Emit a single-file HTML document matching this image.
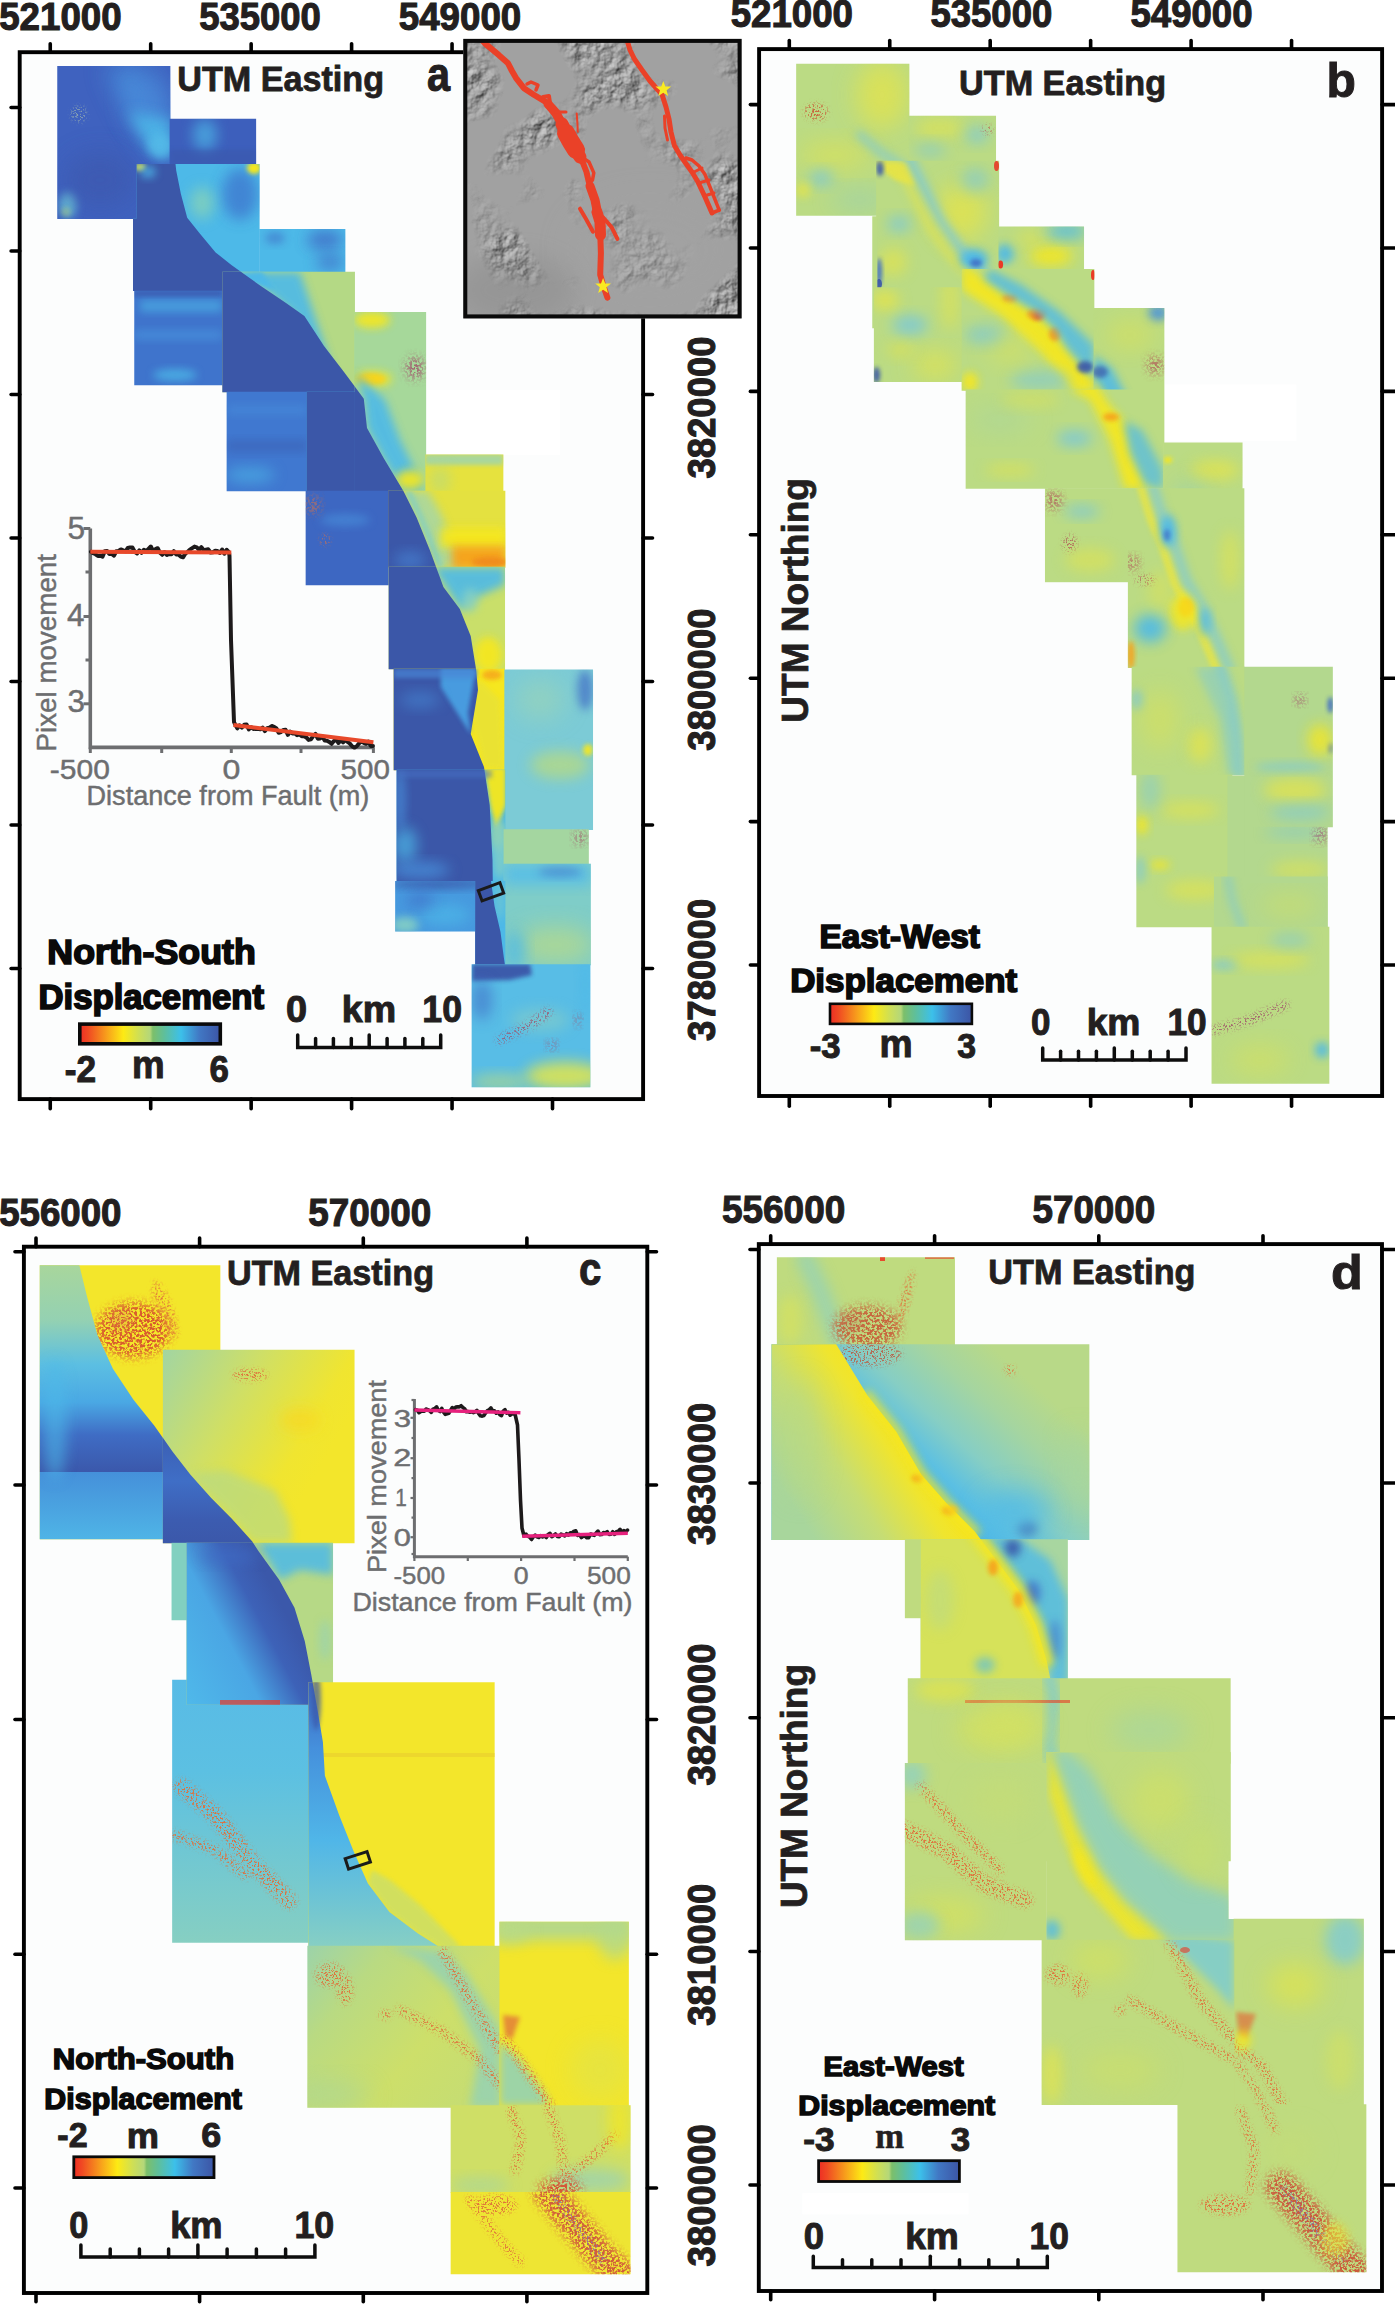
<!DOCTYPE html>
<html><head><meta charset="utf-8"><title>Displacement maps</title>
<style>html,body{margin:0;padding:0;background:#fff}svg{display:block}</style></head>
<body><svg width="1395" height="2307" viewBox="0 0 1395 2307">
<defs>
<filter id="b2" x="-50%" y="-50%" width="200%" height="200%"><feGaussianBlur stdDeviation="2"/></filter>
<filter id="b4" x="-50%" y="-50%" width="200%" height="200%"><feGaussianBlur stdDeviation="4"/></filter>
<filter id="b7" x="-50%" y="-50%" width="200%" height="200%"><feGaussianBlur stdDeviation="7"/></filter>
<filter id="b12" x="-60%" y="-60%" width="220%" height="220%"><feGaussianBlur stdDeviation="12"/></filter>
<filter id="b20" x="-80%" y="-80%" width="260%" height="260%"><feGaussianBlur stdDeviation="20"/></filter>
<filter id="spk" x="-40%" y="-40%" width="180%" height="180%">
<feGaussianBlur in="SourceGraphic" stdDeviation="2.5" result="soft"/>
<feTurbulence type="fractalNoise" baseFrequency="0.55" numOctaves="2" seed="3" result="n"/>
<feColorMatrix in="n" type="matrix" values="0 0 0 0 0  0 0 0 0 0  0 0 0 0 0  9 0 0 0 -4.75" result="a"/>
<feComposite in="soft" in2="a" operator="in"/>
</filter>
<filter id="spk2" x="-40%" y="-40%" width="180%" height="180%">
<feGaussianBlur in="SourceGraphic" stdDeviation="5" result="soft"/>
<feTurbulence type="fractalNoise" baseFrequency="0.4" numOctaves="2" seed="11" result="n"/>
<feColorMatrix in="n" type="matrix" values="0 0 0 0 0  0 0 0 0 0  0 0 0 0 0  0 7 0 0 -3.0" result="a"/>
<feComposite in="soft" in2="a" operator="in"/>
</filter>
<clipPath id="t1"><rect x="57.25" y="65.95" width="113.10" height="153.00"/></clipPath>
<clipPath id="t2"><rect x="169.65" y="118.65" width="86.50" height="45.70"/></clipPath>
<clipPath id="t3"><polygon points="136.7,164.0 259.6,164.0 259.6,291.0 133.0,291.0 133.0,218.6 136.7,218.6"/></clipPath>
<clipPath id="t4"><rect x="259.25" y="229.05" width="86.10" height="43.30"/></clipPath>
<clipPath id="t5"><rect x="134.25" y="290.65" width="88.80" height="94.70"/></clipPath>
<clipPath id="t6"><rect x="222.35" y="271.65" width="132.60" height="120.70"/></clipPath>
<clipPath id="t7"><rect x="354.25" y="311.95" width="71.90" height="179.40"/></clipPath>
<clipPath id="t8"><rect x="226.65" y="391.65" width="80.70" height="99.70"/></clipPath>
<clipPath id="t9"><rect x="306.65" y="391.65" width="48.30" height="99.70"/></clipPath>
<clipPath id="t10"><rect x="425.45" y="454.45" width="77.90" height="113.40"/></clipPath>
<clipPath id="t11"><rect x="305.65" y="490.65" width="83.20" height="94.70"/></clipPath>
<clipPath id="t12"><rect x="388.15" y="490.65" width="117.20" height="77.20"/></clipPath>
<clipPath id="t13"><rect x="388.65" y="566.65" width="116.40" height="102.70"/></clipPath>
<clipPath id="t14"><rect x="393.65" y="668.65" width="111.40" height="101.70"/></clipPath>
<clipPath id="t15"><rect x="504.35" y="669.45" width="88.70" height="160.60"/></clipPath>
<clipPath id="t16"><rect x="396.65" y="769.65" width="108.70" height="112.00"/></clipPath>
<clipPath id="t17"><rect x="503.55" y="829.35" width="85.30" height="35.00"/></clipPath>
<clipPath id="t18"><rect x="503.55" y="863.65" width="87.30" height="101.70"/></clipPath>
<clipPath id="t19"><rect x="395.15" y="880.95" width="80.70" height="50.60"/></clipPath>
<clipPath id="t20"><rect x="475.15" y="880.95" width="30.20" height="99.40"/></clipPath>
<clipPath id="t21"><rect x="471.65" y="964.35" width="118.70" height="123.00"/></clipPath>
<clipPath id="t22"><rect x="796.15" y="63.65" width="113.20" height="152.20"/></clipPath>
<clipPath id="t23"><rect x="908.65" y="115.65" width="87.40" height="46.20"/></clipPath>
<clipPath id="t24"><rect x="876.15" y="160.65" width="123.00" height="127.70"/></clipPath>
<clipPath id="t25"><rect x="872.25" y="216.15" width="5.10" height="112.20"/></clipPath>
<clipPath id="t26"><rect x="998.45" y="226.55" width="85.60" height="43.30"/></clipPath>
<clipPath id="t27"><rect x="873.85" y="287.25" width="88.50" height="94.80"/></clipPath>
<clipPath id="t28"><rect x="961.65" y="268.95" width="132.70" height="121.80"/></clipPath>
<clipPath id="t29"><rect x="1093.65" y="307.95" width="70.70" height="135.40"/></clipPath>
<clipPath id="t30"><rect x="965.65" y="389.45" width="198.20" height="99.40"/></clipPath>
<clipPath id="t31"><rect x="1163.15" y="442.55" width="79.40" height="117.80"/></clipPath>
<clipPath id="t32"><rect x="1044.95" y="488.15" width="83.60" height="94.00"/></clipPath>
<clipPath id="t33"><rect x="1127.85" y="488.15" width="116.50" height="179.80"/></clipPath>
<clipPath id="t34"><rect x="1131.65" y="666.65" width="113.40" height="108.70"/></clipPath>
<clipPath id="t35"><rect x="1136.35" y="774.65" width="96.00" height="152.70"/></clipPath>
<clipPath id="t36"><rect x="1227.45" y="775.55" width="17.60" height="151.80"/></clipPath>
<clipPath id="t37"><rect x="1244.35" y="666.65" width="88.50" height="160.70"/></clipPath>
<clipPath id="t38"><rect x="1244.35" y="826.65" width="83.30" height="100.70"/></clipPath>
<clipPath id="t39"><rect x="1213.95" y="876.45" width="113.70" height="51.40"/></clipPath>
<clipPath id="t40"><rect x="1211.55" y="926.65" width="117.80" height="157.20"/></clipPath>
<linearGradient id="gc1" gradientUnits="userSpaceOnUse" x1="0" y1="1265.5" x2="0" y2="1539"><stop offset="0" stop-color="#a8d69c"/><stop offset="0.2" stop-color="#94d1b2"/><stop offset="0.36" stop-color="#5cbfe2"/><stop offset="0.5" stop-color="#4aa8e4"/><stop offset="0.62" stop-color="#3f6cc4"/><stop offset="0.755" stop-color="#3b58ab"/><stop offset="0.756" stop-color="#4590da"/><stop offset="1" stop-color="#4fb4e6"/></linearGradient>
<clipPath id="t41"><rect x="39.75" y="1265.15" width="180.60" height="274.20"/></clipPath>
<linearGradient id="gc2" gradientUnits="userSpaceOnUse" x1="163" y1="1350" x2="330" y2="1450"><stop offset="0" stop-color="#a2d5a2"/><stop offset="0.45" stop-color="#cfdf66"/><stop offset="0.85" stop-color="#f0e530"/><stop offset="1" stop-color="#f3e62b"/></linearGradient>
<linearGradient id="gc2w" gradientUnits="userSpaceOnUse" x1="0" y1="1430" x2="0" y2="1543"><stop offset="0" stop-color="#3b5cb0"/><stop offset="0.45" stop-color="#3f6ec6"/><stop offset="0.8" stop-color="#3c5cb0"/><stop offset="1" stop-color="#3b58aa"/></linearGradient>
<clipPath id="t42"><rect x="162.85" y="1349.65" width="191.70" height="193.70"/></clipPath>
<linearGradient id="gc4" gradientUnits="userSpaceOnUse" x1="0" y1="1680" x2="0" y2="1942"><stop offset="0" stop-color="#58bbe6"/><stop offset="0.35" stop-color="#5cc0e2"/><stop offset="1" stop-color="#86cfc2"/></linearGradient>
<clipPath id="t43"><rect x="172.15" y="1679.65" width="136.90" height="263.20"/></clipPath>
<clipPath id="t44"><rect x="171.55" y="1542.85" width="15.70" height="77.50"/></clipPath>
<linearGradient id="gc3" gradientUnits="userSpaceOnUse" x1="186.9" y1="1700" x2="300" y2="1640"><stop offset="0" stop-color="#4fb8ea"/><stop offset="0.5" stop-color="#4aa6e4"/><stop offset="0.8" stop-color="#3d62b8"/><stop offset="1" stop-color="#3b58aa"/></linearGradient>
<clipPath id="t45"><rect x="186.55" y="1542.85" width="146.50" height="162.00"/></clipPath>
<linearGradient id="gc4w" gradientUnits="userSpaceOnUse" x1="0" y1="1682" x2="0" y2="1946"><stop offset="0" stop-color="#3e66c0"/><stop offset="0.25" stop-color="#4590dc"/><stop offset="0.6" stop-color="#50b6e8"/><stop offset="1" stop-color="#86cfc4"/></linearGradient>
<clipPath id="t46"><rect x="308.35" y="1682.25" width="186.30" height="264.10"/></clipPath>
<linearGradient id="gc5" gradientUnits="userSpaceOnUse" x1="307" y1="1946" x2="500" y2="2107"><stop offset="0" stop-color="#9cd3aa"/><stop offset="0.25" stop-color="#b9da82"/><stop offset="0.6" stop-color="#cddf6a"/><stop offset="1" stop-color="#c3dc76"/></linearGradient>
<clipPath id="t47"><rect x="307.35" y="1945.65" width="192.80" height="162.10"/></clipPath>
<clipPath id="t48"><rect x="499.45" y="1921.65" width="129.40" height="184.30"/></clipPath>
<clipPath id="t49"><rect x="450.65" y="2105.25" width="179.90" height="87.40"/></clipPath>
<clipPath id="t50"><rect x="450.65" y="2191.95" width="179.90" height="82.40"/></clipPath>
<clipPath id="t51"><rect x="776.85" y="1257.15" width="178.10" height="87.80"/></clipPath>
<linearGradient id="gd2w" gradientUnits="userSpaceOnUse" x1="790" y1="1500" x2="900" y2="1430"><stop offset="0" stop-color="#a8d69c"/><stop offset="0.45" stop-color="#c6dd74"/><stop offset="0.85" stop-color="#efe52f"/><stop offset="1" stop-color="#f5e422"/></linearGradient>
<linearGradient id="gd2e" gradientUnits="userSpaceOnUse" x1="940" y1="1500" x2="1040" y2="1390"><stop offset="0" stop-color="#4db8e8"/><stop offset="0.14" stop-color="#5cc0e2"/><stop offset="0.38" stop-color="#86cec4"/><stop offset="0.7" stop-color="#a5d5a0"/><stop offset="1" stop-color="#b8d988"/></linearGradient>
<clipPath id="t52"><rect x="771.45" y="1344.25" width="317.90" height="195.70"/></clipPath>
<clipPath id="t53"><rect x="904.85" y="1539.25" width="16.50" height="78.90"/></clipPath>
<clipPath id="t54"><rect x="920.65" y="1539.25" width="147.20" height="139.80"/></clipPath>
<clipPath id="t55"><rect x="907.75" y="1678.35" width="322.90" height="85.30"/></clipPath>
<clipPath id="t56"><rect x="1046.05" y="1752.05" width="184.60" height="109.30"/></clipPath>
<clipPath id="t57"><rect x="904.85" y="1762.95" width="141.90" height="177.40"/></clipPath>
<clipPath id="t58"><polygon points="1046.4,1752.4 1230.3,1752.4 1230.3,1861.0 1228.5,1861.0 1228.5,1919.0 1234.0,1919.0 1234.0,1940.0 1046.4,1940.0"/></clipPath>
<clipPath id="t59"><rect x="1233.65" y="1918.65" width="130.20" height="186.30"/></clipPath>
<clipPath id="t60"><rect x="1041.65" y="1939.65" width="192.70" height="165.30"/></clipPath>
<clipPath id="t61"><rect x="1177.45" y="2104.25" width="188.90" height="168.10"/></clipPath>
<filter id="dem" x="0" y="0" width="100%" height="100%" color-interpolation-filters="sRGB">
<feTurbulence type="fractalNoise" baseFrequency="0.09" numOctaves="4" seed="7" result="n"/>
<feDiffuseLighting in="n" surfaceScale="2.6" diffuseConstant="1" lighting-color="#fff" result="l"><feDistantLight azimuth="225" elevation="50"/></feDiffuseLighting>
<feColorMatrix in="l" type="matrix" values="0.9 0 0 0 -0.08  0.9 0 0 0 -0.08  0.9 0 0 0 -0.08  0 0 0 1 0" result="lg"/>
<feTurbulence type="fractalNoise" baseFrequency="0.014" numOctaves="2" seed="23" result="m"/>
<feColorMatrix in="m" type="matrix" values="0 0 0 0 0  0 0 0 0 0  0 0 0 0 0  6 0 0 0 -2.9" result="ma"/>
<feComposite in="lg" in2="ma" operator="in"/>
</filter>
<clipPath id="insc"><rect x="465" y="41" width="275" height="276"/></clipPath>
<linearGradient id="cbar" x1="0" y1="0" x2="1" y2="0"><stop offset="0" stop-color="#ee2d24"/><stop offset="0.06" stop-color="#f04a23"/><stop offset="0.2" stop-color="#f8a51b"/><stop offset="0.31" stop-color="#fdea14"/><stop offset="0.42" stop-color="#cfdf55"/><stop offset="0.5" stop-color="#b4d77a"/><stop offset="0.52" stop-color="#7cbf6a"/><stop offset="0.6" stop-color="#5fbf9a"/><stop offset="0.72" stop-color="#3cc0ea"/><stop offset="0.85" stop-color="#4178c4"/><stop offset="1" stop-color="#3c55a5"/></linearGradient>
</defs>
<rect x="0.0" y="0.0" width="1395.0" height="2307.0" fill="#ffffff" />
<rect x="19.7" y="52.2" width="623.4" height="1046.9" fill="#fcfdfd" />
<rect x="759.1" y="49.1" width="623.0" height="1046.9" fill="#fcfdfd" />
<rect x="23.9" y="1246.7" width="623.4" height="1046.3" fill="#fcfdfd" />
<rect x="758.8" y="1244.1" width="623.2" height="1046.9" fill="#fcfdfd" />
<rect x="1165.0" y="384.5" width="131.4" height="56.5" fill="#ffffff" />
<rect x="427.0" y="390.0" width="133.0" height="65.0" fill="#ffffff" />
<g clip-path="url(#t1)">
<rect x="56.6" y="65.3" width="114.4" height="154.3" fill="#3f62bf" />
<polygon points="105.0,66.0 140.0,66.0 171.0,120.0 171.0,160.0 150.0,150.0 125.0,110.0" fill="#4a90dc" filter="url(#b12)" opacity="0.9"/>
<ellipse cx="150" cy="100" rx="22" ry="30" fill="#4888d8" filter="url(#b12)" opacity="0.6"/>
<polygon points="128.0,112.0 171.0,120.0 171.0,160.0 150.0,150.0" fill="#4db9e8" filter="url(#b7)" opacity="0.85"/>
<ellipse cx="160" cy="146" rx="12" ry="12" fill="#55bce8" filter="url(#b4)" opacity="0.8"/>
<ellipse cx="68" cy="205" rx="9" ry="13" fill="#6cc8d8" filter="url(#b4)" opacity="0.8"/>
<ellipse cx="66" cy="212" rx="5" ry="5" fill="#d6e25a" filter="url(#b2)" opacity="0.3"/>
<ellipse cx="100" cy="180" rx="36" ry="28" fill="#3c58ae" filter="url(#b12)" opacity="0.7"/>
<ellipse cx="79" cy="114" rx="8" ry="8" fill="#9ab0b0" filter="url(#spk)" opacity="0.8"/>
</g>
<g clip-path="url(#t2)">
<rect x="169.0" y="118.0" width="87.8" height="47.0" fill="#3d5fbc" />
<ellipse cx="205" cy="135" rx="12" ry="16" fill="#4db9e8" filter="url(#b7)" opacity="0.7"/>
<rect x="170" y="150" width="86" height="15" fill="#3b57a8" filter="url(#b2)" opacity="0.5"/>
</g>
<g clip-path="url(#t3)">
<rect x="132.0" y="163.0" width="128.6" height="129.0" fill="#4db9e8" />
<ellipse cx="240" cy="194" rx="18" ry="26" fill="#4080d2" filter="url(#b7)" opacity="0.9"/>
<ellipse cx="202" cy="203" rx="12" ry="16" fill="#8fd6b0" filter="url(#b7)" opacity="0.7"/>
<ellipse cx="254" cy="168" rx="7" ry="6" fill="#f6e71f" filter="url(#b2)" opacity="1"/>
<polygon points="-50.0,-50.0 174.0,-50.0 174.0,150.0 176.2,170.4 180.9,194.0 187.2,217.7 199.8,233.5 215.6,252.4 231.4,265.0 244.0,274.0 260.8,286.0 286.0,303.0 304.4,316.0 324.0,346.0 344.0,372.0 363.8,398.7 367.0,428.0 383.6,458.0 403.4,491.0 416.6,517.4 429.8,550.0 439.7,576.8 443.4,587.0 459.8,609.0 470.7,636.0 476.0,669.0 478.0,690.0 470.7,734.0 484.0,767.0 489.7,805.0 492.5,860.0 493.0,900.0 500.0,940.0 505.0,965.0 505.0,1165.0 -50.0,1165.0" fill="#3b57a8"/>
<ellipse cx="140" cy="167" rx="6" ry="4" fill="#d6e25a" filter="url(#b2)" opacity="0.9"/>
<ellipse cx="148" cy="172" rx="8" ry="6" fill="#4db9e8" filter="url(#b4)" opacity="0.8"/>
</g>
<g clip-path="url(#t4)">
<rect x="258.6" y="228.4" width="87.4" height="44.6" fill="#4db9e8" />
<ellipse cx="325" cy="240" rx="18" ry="10" fill="#3f6cc6" filter="url(#b7)" opacity="0.8"/>
<ellipse cx="330" cy="262" rx="14" ry="8" fill="#3f6cc6" filter="url(#b7)" opacity="0.7"/>
<ellipse cx="275" cy="238" rx="10" ry="6" fill="#3f6cc6" filter="url(#b4)" opacity="0.6"/>
</g>
<g clip-path="url(#t5)">
<rect x="133.6" y="290.0" width="90.1" height="96.0" fill="#3f74cc" />
<rect x="140" y="300" width="82" height="12" fill="#4db9e8" filter="url(#b4)" opacity="0.6"/>
<rect x="134" y="330" width="88" height="10" fill="#4a93dd" filter="url(#b4)" opacity="0.7"/>
<ellipse cx="175" cy="375" rx="22" ry="6" fill="#4db9e8" filter="url(#b4)" opacity="0.8"/>
<rect x="134" y="291" width="88" height="5" fill="#3b57a8" filter="url(#b2)" opacity="0.7"/>
</g>
<g clip-path="url(#t6)">
<rect x="221.7" y="271.0" width="133.9" height="122.0" fill="#b4d985" />
<polygon points="245.0,272.0 300.0,272.0 340.0,392.0 330.0,392.0 300.0,320.0" fill="#4db9e8" filter="url(#b4)" opacity="0.9"/>
<polygon points="222.0,272.0 262.0,272.0 275.0,290.0 240.0,280.0" fill="#4db9e8" filter="url(#b2)" opacity="1"/>
<polygon points="-50.0,-50.0 174.0,-50.0 174.0,150.0 176.2,170.4 180.9,194.0 187.2,217.7 199.8,233.5 215.6,252.4 231.4,265.0 244.0,274.0 260.8,286.0 286.0,303.0 304.4,316.0 324.0,346.0 344.0,372.0 363.8,398.7 367.0,428.0 383.6,458.0 403.4,491.0 416.6,517.4 429.8,550.0 439.7,576.8 443.4,587.0 459.8,609.0 470.7,636.0 476.0,669.0 478.0,690.0 470.7,734.0 484.0,767.0 489.7,805.0 492.5,860.0 493.0,900.0 500.0,940.0 505.0,965.0 505.0,1165.0 -50.0,1165.0" fill="#3b57a8"/>
</g>
<g clip-path="url(#t7)">
<rect x="353.6" y="311.3" width="73.2" height="180.7" fill="#a6d89a" />
<ellipse cx="372" cy="320" rx="18" ry="8" fill="#f6e71f" filter="url(#b4)" opacity="0.9"/>
<ellipse cx="371" cy="379" rx="14" ry="5" fill="#f6a21c" filter="url(#b2)" opacity="1"/>
<ellipse cx="372" cy="379" rx="20" ry="8" fill="#f6e71f" filter="url(#b4)" opacity="0.8"/>
<ellipse cx="415" cy="368" rx="9" ry="11" fill="#a0506a" filter="url(#spk2)" opacity="0.9"/>
<polygon points="354.0,372.0 364.0,398.0 367.0,428.0 383.0,458.0 403.0,491.0 425.0,491.0 400.0,440.0 385.0,400.0" fill="#4db9e8" filter="url(#b4)" opacity="0.9"/>
<ellipse cx="410" cy="480" rx="14" ry="10" fill="#f6e71f" filter="url(#b4)" opacity="0.9"/>
<polygon points="-50.0,-50.0 174.0,-50.0 174.0,150.0 176.2,170.4 180.9,194.0 187.2,217.7 199.8,233.5 215.6,252.4 231.4,265.0 244.0,274.0 260.8,286.0 286.0,303.0 304.4,316.0 324.0,346.0 344.0,372.0 363.8,398.7 367.0,428.0 383.6,458.0 403.4,491.0 416.6,517.4 429.8,550.0 439.7,576.8 443.4,587.0 459.8,609.0 470.7,636.0 476.0,669.0 478.0,690.0 470.7,734.0 484.0,767.0 489.7,805.0 492.5,860.0 493.0,900.0 500.0,940.0 505.0,965.0 505.0,1165.0 -50.0,1165.0" fill="#3b57a8"/>
</g>
<g clip-path="url(#t8)">
<rect x="226.0" y="391.0" width="82.0" height="101.0" fill="#4078d0" />
<rect x="227" y="405" width="80" height="10" fill="#4a93dd" filter="url(#b4)" opacity="0.5"/>
<ellipse cx="250" cy="475" rx="25" ry="8" fill="#4db9e8" filter="url(#b7)" opacity="0.6"/>
<rect x="227" y="440" width="80" height="12" fill="#3b57a8" filter="url(#b4)" opacity="0.4"/>
</g>
<g clip-path="url(#t9)">
<rect x="306.0" y="391.0" width="49.6" height="101.0" fill="#4db9e8" />
<polygon points="-50.0,-50.0 174.0,-50.0 174.0,150.0 176.2,170.4 180.9,194.0 187.2,217.7 199.8,233.5 215.6,252.4 231.4,265.0 244.0,274.0 260.8,286.0 286.0,303.0 304.4,316.0 324.0,346.0 344.0,372.0 363.8,398.7 367.0,428.0 383.6,458.0 403.4,491.0 416.6,517.4 429.8,550.0 439.7,576.8 443.4,587.0 459.8,609.0 470.7,636.0 476.0,669.0 478.0,690.0 470.7,734.0 484.0,767.0 489.7,805.0 492.5,860.0 493.0,900.0 500.0,940.0 505.0,965.0 505.0,1165.0 -50.0,1165.0" fill="#3b57a8"/>
</g>
<g clip-path="url(#t10)">
<rect x="424.8" y="453.8" width="79.2" height="114.7" fill="#e6e23e" />
<rect x="425" y="454" width="78" height="11" fill="#a6d6a2" filter="url(#b2)" opacity="0.95"/>
<ellipse cx="440" cy="480" rx="10" ry="14" fill="#b4d985" filter="url(#b7)" opacity="0.6"/>
</g>
<g clip-path="url(#t11)">
<rect x="305.0" y="490.0" width="84.5" height="96.0" fill="#3d67c2" />
<ellipse cx="345" cy="520" rx="25" ry="6" fill="#4a93dd" filter="url(#b4)" opacity="0.6"/>
<ellipse cx="313" cy="505" rx="7" ry="9" fill="#c0705a" filter="url(#spk2)" opacity="0.9"/>
<ellipse cx="325" cy="540" rx="5" ry="6" fill="#c0705a" filter="url(#spk)" opacity="0.9"/>
</g>
<g clip-path="url(#t12)">
<rect x="387.5" y="490.0" width="118.5" height="78.5" fill="#e4e140" />
<polygon points="403.4,491.0 416.6,517.4 429.8,550.0 437.0,568.0 462.0,568.0 452.0,540.0 440.0,512.0 428.0,491.0" fill="#a9d7a0" filter="url(#b4)" opacity="0.9"/>
<polygon points="403.4,491.0 416.6,517.4 429.8,550.0 437.0,568.0 444.0,568.0 436.0,545.0 424.0,517.0 412.0,491.0" fill="#7fcdc8" filter="url(#b2)" opacity="0.7"/>
<rect x="440" y="528" width="66" height="20" fill="#f6e71f" filter="url(#b4)" opacity="0.9"/>
<rect x="452" y="546" width="54" height="23" fill="#f6a21c" filter="url(#b4)" opacity="0.95"/>
<ellipse cx="490" cy="562" rx="18" ry="5" fill="#f08a1c" filter="url(#b2)" opacity="0.9"/>
<polygon points="-50.0,-50.0 174.0,-50.0 174.0,150.0 176.2,170.4 180.9,194.0 187.2,217.7 199.8,233.5 215.6,252.4 231.4,265.0 244.0,274.0 260.8,286.0 286.0,303.0 304.4,316.0 324.0,346.0 344.0,372.0 363.8,398.7 367.0,428.0 383.6,458.0 403.4,491.0 416.6,517.4 429.8,550.0 439.7,576.8 443.4,587.0 459.8,609.0 470.7,636.0 476.0,669.0 478.0,690.0 470.7,734.0 484.0,767.0 489.7,805.0 492.5,860.0 493.0,900.0 500.0,940.0 505.0,965.0 505.0,1165.0 -50.0,1165.0" fill="#3b57a8"/>
<ellipse cx="410" cy="560" rx="16" ry="8" fill="#4a86d6" filter="url(#b7)" opacity="0.7"/>
</g>
<g clip-path="url(#t13)">
<rect x="388.0" y="566.0" width="117.7" height="104.0" fill="#c9df6a" />
<polygon points="432.0,567.0 505.0,567.0 505.0,585.0 470.0,600.0 462.0,612.0" fill="#4db9e8" filter="url(#b4)" opacity="0.9"/>
<ellipse cx="488" cy="655" rx="14" ry="18" fill="#f6e71f" filter="url(#b4)" opacity="0.9"/>
<ellipse cx="470" cy="600" rx="8" ry="12" fill="#86d0c4" filter="url(#b4)" opacity="0.8"/>
<polygon points="-50.0,-50.0 174.0,-50.0 174.0,150.0 176.2,170.4 180.9,194.0 187.2,217.7 199.8,233.5 215.6,252.4 231.4,265.0 244.0,274.0 260.8,286.0 286.0,303.0 304.4,316.0 324.0,346.0 344.0,372.0 363.8,398.7 367.0,428.0 383.6,458.0 403.4,491.0 416.6,517.4 429.8,550.0 439.7,576.8 443.4,587.0 459.8,609.0 470.7,636.0 476.0,669.0 478.0,690.0 470.7,734.0 484.0,767.0 489.7,805.0 492.5,860.0 493.0,900.0 500.0,940.0 505.0,965.0 505.0,1165.0 -50.0,1165.0" fill="#3b57a8"/>
</g>
<g clip-path="url(#t14)">
<rect x="393.0" y="668.0" width="112.7" height="103.0" fill="#f6e71f" />
<ellipse cx="492" cy="675" rx="10" ry="5" fill="#f6a21c" filter="url(#b2)" opacity="0.8"/>
<polygon points="468.0,700.0 480.0,680.0 500.0,700.0 504.0,770.0 484.0,767.0" fill="#e9e236" filter="url(#b2)" opacity="0.9"/>
<polygon points="-50.0,-50.0 174.0,-50.0 174.0,150.0 176.2,170.4 180.9,194.0 187.2,217.7 199.8,233.5 215.6,252.4 231.4,265.0 244.0,274.0 260.8,286.0 286.0,303.0 304.4,316.0 324.0,346.0 344.0,372.0 363.8,398.7 367.0,428.0 383.6,458.0 403.4,491.0 416.6,517.4 429.8,550.0 439.7,576.8 443.4,587.0 459.8,609.0 470.7,636.0 476.0,669.0 478.0,690.0 470.7,734.0 484.0,767.0 489.7,805.0 492.5,860.0 493.0,900.0 500.0,940.0 505.0,965.0 505.0,1165.0 -50.0,1165.0" fill="#3b57a8"/>
<polygon points="440.7,669.0 476.0,669.0 468.0,712.5 470.7,734.3 440.7,687.0" fill="#4aa0e2" filter="url(#b2)" opacity="0.95"/>
<rect x="394" y="669" width="82" height="9" fill="#4a86d6" filter="url(#b2)" opacity="0.7"/>
<ellipse cx="420" cy="700" rx="20" ry="8" fill="#4a93dd" filter="url(#b7)" opacity="0.5"/>
</g>
<g clip-path="url(#t15)">
<rect x="503.7" y="668.8" width="90.0" height="161.9" fill="#7ccbd6" />
<ellipse cx="560" cy="765" rx="30" ry="14" fill="#b4d985" filter="url(#b7)" opacity="0.8"/>
<ellipse cx="585" cy="690" rx="8" ry="20" fill="#3f6cc6" filter="url(#b4)" opacity="0.7"/>
<ellipse cx="540" cy="700" rx="25" ry="20" fill="#9ad4b8" filter="url(#b12)" opacity="0.7"/>
<ellipse cx="588" cy="750" rx="5" ry="6" fill="#f6e71f" filter="url(#b2)" opacity="0.9"/>
</g>
<g clip-path="url(#t16)">
<rect x="396.0" y="769.0" width="110.0" height="113.3" fill="#4db9e8" />
<polygon points="484.0,767.0 506.0,767.0 506.0,805.0 496.0,830.0 490.0,805.0" fill="#f6e71f" filter="url(#b2)" opacity="0.95"/>
<ellipse cx="498" cy="835" rx="6" ry="14" fill="#b4d985" filter="url(#b4)" opacity="0.8"/>
<ellipse cx="500" cy="850" rx="8" ry="30" fill="#86d0c4" filter="url(#b4)" opacity="0.8"/>
<polygon points="-50.0,-50.0 174.0,-50.0 174.0,150.0 176.2,170.4 180.9,194.0 187.2,217.7 199.8,233.5 215.6,252.4 231.4,265.0 244.0,274.0 260.8,286.0 286.0,303.0 304.4,316.0 324.0,346.0 344.0,372.0 363.8,398.7 367.0,428.0 383.6,458.0 403.4,491.0 416.6,517.4 429.8,550.0 439.7,576.8 443.4,587.0 459.8,609.0 470.7,636.0 476.0,669.0 478.0,690.0 470.7,734.0 484.0,767.0 489.7,805.0 492.5,860.0 493.0,900.0 500.0,940.0 505.0,965.0 505.0,1165.0 -50.0,1165.0" fill="#3b57a8"/>
<ellipse cx="405" cy="845" rx="12" ry="18" fill="#4db9e8" filter="url(#b7)" opacity="0.7"/>
<ellipse cx="420" cy="870" rx="30" ry="8" fill="#4a93dd" filter="url(#b7)" opacity="0.8"/>
<ellipse cx="400" cy="800" rx="6" ry="30" fill="#4a93dd" filter="url(#b4)" opacity="0.6"/>
<rect x="397" y="770" width="95" height="8" fill="#4a74c8" filter="url(#b2)" opacity="0.5"/>
</g>
<g clip-path="url(#t17)">
<rect x="502.9" y="828.7" width="86.6" height="36.3" fill="#a4d6a0" />
<ellipse cx="580" cy="838" rx="6" ry="6" fill="#a0506a" filter="url(#spk2)" opacity="0.9"/>
</g>
<g clip-path="url(#t18)">
<rect x="502.9" y="863.0" width="88.6" height="103.0" fill="#7fcdc8" />
<rect x="503" y="864" width="88" height="21" fill="#56bde8" filter="url(#b7)" opacity="0.9"/>
<ellipse cx="560" cy="872" rx="22" ry="5" fill="#3f6cc6" filter="url(#b4)" opacity="0.5"/>
<ellipse cx="555" cy="945" rx="40" ry="18" fill="#b0d890" filter="url(#b12)" opacity="0.9"/>
<ellipse cx="515" cy="950" rx="10" ry="20" fill="#4db9e8" filter="url(#b7)" opacity="0.7"/>
</g>
<g clip-path="url(#t19)">
<rect x="394.5" y="880.3" width="82.0" height="51.9" fill="#479adf" />
<ellipse cx="440" cy="884" rx="50" ry="5" fill="#3b57a8" filter="url(#b4)" opacity="0.8"/>
<ellipse cx="405" cy="925" rx="14" ry="8" fill="#86d0c4" filter="url(#b4)" opacity="0.9"/>
<ellipse cx="445" cy="915" rx="25" ry="10" fill="#4db9e8" filter="url(#b7)" opacity="0.7"/>
<ellipse cx="420" cy="900" rx="14" ry="8" fill="#3f6cc6" filter="url(#b7)" opacity="0.6"/>
</g>
<g clip-path="url(#t20)">
<rect x="474.5" y="880.3" width="31.5" height="100.7" fill="#4db9e8" />
<ellipse cx="500" cy="900" rx="4" ry="20" fill="#86d0c4" filter="url(#b4)" opacity="0.6"/>
<polygon points="-50.0,660.0 490.0,660.0 490.0,860.0 491.0,881.0 494.5,906.0 500.5,932.0 503.9,958.0 506.0,972.0 506.0,1172.0 -50.0,1172.0" fill="#3b57a8"/>
</g>
<g clip-path="url(#t21)">
<rect x="471.0" y="963.7" width="120.0" height="124.3" fill="#58bde6" />
<ellipse cx="565" cy="1076" rx="40" ry="14" fill="#d6e25a" filter="url(#b7)" opacity="0.95"/>
<ellipse cx="500" cy="1082" rx="30" ry="8" fill="#b4d985" filter="url(#b7)" opacity="0.7"/>
<polygon points="472.0,964.0 530.0,964.0 532.0,975.0 510.0,980.0 472.0,981.0" fill="#3b57a8" filter="url(#b2)" opacity="0.95"/>
<ellipse cx="482" cy="1000" rx="10" ry="20" fill="#3f6cc6" filter="url(#b7)" opacity="0.6"/>
<ellipse cx="540" cy="1020" rx="30" ry="12" fill="#8fd0c0" filter="url(#b7)" opacity="0.5"/>
<polyline points="500.0,1040.0 530.0,1025.0 548.0,1012.0" fill="none" stroke="#a0506a" stroke-width="8" filter="url(#spk)" opacity="0.9" stroke-linejoin="round" stroke-linecap="round"/>
<ellipse cx="552" cy="1045" rx="5" ry="4" fill="#a0506a" filter="url(#spk2)" opacity="0.9"/>
<ellipse cx="578" cy="1020" rx="3" ry="6" fill="#a0506a" filter="url(#spk2)" opacity="0.9"/>
<ellipse cx="585" cy="985" rx="6" ry="30" fill="#4db9e8" filter="url(#b4)" opacity="0.5"/>
</g>
<g clip-path="url(#t22)">
<rect x="795.5" y="63.0" width="114.5" height="153.5" fill="#bbdb84" />
<ellipse cx="882" cy="95" rx="26" ry="34" fill="#e6e446" filter="url(#b12)" opacity="0.7"/>
<ellipse cx="835" cy="155" rx="36" ry="12" fill="#e6e446" filter="url(#b12)" opacity="0.6"/>
<ellipse cx="821" cy="178" rx="12" ry="8" fill="#7cc8d8" filter="url(#b7)" opacity="0.8"/>
<ellipse cx="803" cy="190" rx="8" ry="8" fill="#e6e446" filter="url(#b4)" opacity="0.7"/>
<ellipse cx="816" cy="112" rx="12" ry="9" fill="#c8603a" filter="url(#spk)" opacity="0.9"/>
<polyline points="860.0,135.0 880.0,152.0 905.0,168.0" fill="none" stroke="#7cc8d8" stroke-width="9" filter="url(#b4)" opacity="0.6" stroke-linejoin="round" stroke-linecap="round"/>
<ellipse cx="860" cy="200" rx="30" ry="10" fill="#7cc8d8" filter="url(#b12)" opacity="0.4"/>
</g>
<g clip-path="url(#t23)">
<rect x="908.0" y="115.0" width="88.7" height="47.5" fill="#bbdb84" />
<ellipse cx="987" cy="130" rx="5" ry="5" fill="#c8503a" filter="url(#spk)" opacity="0.95"/>
<ellipse cx="940" cy="128" rx="25" ry="10" fill="#e6e446" filter="url(#b7)" opacity="0.55"/>
<ellipse cx="977" cy="135" rx="12" ry="9" fill="#7cc8d8" filter="url(#b7)" opacity="0.7"/>
<ellipse cx="930" cy="150" rx="16" ry="8" fill="#7cc8d8" filter="url(#b7)" opacity="0.5"/>
</g>
<g clip-path="url(#t24)">
<rect x="875.5" y="160.0" width="124.3" height="129.0" fill="#bbdb84" />
<polygon points="883.0,162.0 906.0,162.0 916.0,186.0 895.0,180.0 884.0,172.0" fill="#e6e446" filter="url(#b2)" opacity="0.95"/>
<ellipse cx="880" cy="168" rx="3.5" ry="8" fill="#3b57a8" filter="url(#b2)" opacity="0.95"/>
<ellipse cx="996.5" cy="166" rx="2.5" ry="5" fill="#ea3a25" filter="url(#b1)" opacity="0.9"/>
<ellipse cx="962" cy="212" rx="26" ry="28" fill="#e6e446" filter="url(#b12)" opacity="0.75"/>
<ellipse cx="975" cy="180" rx="14" ry="12" fill="#7cc8d8" filter="url(#b7)" opacity="0.6"/>
<ellipse cx="899" cy="224" rx="12" ry="8" fill="#7cc8d8" filter="url(#b7)" opacity="0.8"/>
<polyline points="883.0,147.0 909.0,157.0 922.6,184.6 941.0,221.0 959.0,246.6 968.2,257.0 988.9,275.5 1011.8,291.5 1039.4,307.6" fill="none" stroke="#7cc8d8" stroke-width="9" filter="url(#b4)" opacity="0.8" stroke-linejoin="round" stroke-linecap="round"/>
<polyline points="872.0,154.0 898.0,164.0 911.6,191.6 930.0,228.0 948.0,253.6 957.2,264.0 977.9,282.5 1000.8,298.5 1028.4,314.6" fill="none" stroke="#e6e446" stroke-width="8" filter="url(#b4)" opacity="0.6" stroke-linejoin="round" stroke-linecap="round"/>
<ellipse cx="974" cy="259" rx="14" ry="10" fill="#4db9e8" filter="url(#b4)" opacity="0.95"/>
<ellipse cx="976" cy="263" rx="6" ry="4" fill="#3f6cc6" filter="url(#b2)" opacity="0.9"/>
<ellipse cx="893" cy="262" rx="14" ry="14" fill="#e6e446" filter="url(#b7)" opacity="0.6"/>
<ellipse cx="879" cy="272" rx="3" ry="14" fill="#3f6cc6" filter="url(#b2)" opacity="0.9"/>
<ellipse cx="879" cy="284" rx="3" ry="5" fill="#3b57a8" filter="url(#b1)" opacity="0.9"/>
</g>
<g clip-path="url(#t25)">
<rect x="871.6" y="215.5" width="6.4" height="113.5" fill="#bbdb84" />
</g>
<g clip-path="url(#t26)">
<rect x="997.8" y="225.9" width="86.9" height="44.6" fill="#bbdb84" />
<ellipse cx="1050.7" cy="256" rx="22" ry="10" fill="#f6e71f" filter="url(#b7)" opacity="0.9"/>
<ellipse cx="1004.8" cy="254" rx="9" ry="10" fill="#4db9e8" filter="url(#b4)" opacity="0.9"/>
<ellipse cx="1066.7" cy="231" rx="20" ry="8" fill="#4db9e8" filter="url(#b7)" opacity="0.8"/>
<ellipse cx="1000.6" cy="264.5" rx="2.5" ry="4" fill="#ea3a25" filter="url(#b1)" opacity="1"/>
<ellipse cx="1030" cy="238" rx="14" ry="8" fill="#e6e446" filter="url(#b7)" opacity="0.5"/>
</g>
<g clip-path="url(#t27)">
<rect x="873.2" y="286.6" width="89.8" height="96.1" fill="#bbdb84" />
<ellipse cx="910" cy="325" rx="18" ry="10" fill="#7cc8d8" filter="url(#b7)" opacity="0.85"/>
<ellipse cx="885" cy="300" rx="14" ry="10" fill="#e6e446" filter="url(#b7)" opacity="0.8"/>
<ellipse cx="935" cy="365" rx="22" ry="12" fill="#e6e446" filter="url(#b12)" opacity="0.8"/>
<ellipse cx="876.5" cy="375" rx="3.5" ry="8" fill="#3b57a8" filter="url(#b2)" opacity="0.9"/>
<ellipse cx="950" cy="300" rx="10" ry="30" fill="#e6e446" filter="url(#b7)" opacity="0.5"/>
<ellipse cx="900" cy="350" rx="14" ry="8" fill="#e6e446" filter="url(#b7)" opacity="0.5"/>
</g>
<g clip-path="url(#t28)">
<rect x="961.0" y="268.3" width="134.0" height="123.1" fill="#bbdb84" />
<polygon points="962.0,262.0 983.9,278.5 1006.8,294.5 1034.4,310.6 1052.7,326.6 1066.5,347.3 1080.2,363.3 1094.0,379.4 1094.0,391.0 1075.0,391.0 1040.0,352.0 1000.0,315.0 962.0,290.0" fill="#f6e71f" filter="url(#b4)" opacity="0.9"/>
<ellipse cx="1037" cy="314" rx="10" ry="6" fill="#f6a21c" filter="url(#b2)" opacity="1"/>
<ellipse cx="1038" cy="316" rx="5" ry="4" fill="#e8632a" filter="url(#b2)" opacity="0.9"/>
<ellipse cx="1055" cy="334" rx="6" ry="7" fill="#f6a21c" filter="url(#b2)" opacity="1"/>
<ellipse cx="1010" cy="298" rx="8" ry="4" fill="#f6a21c" filter="url(#b2)" opacity="0.9"/>
<polygon points="983.9,278.5 1006.8,294.5 1034.4,310.6 1052.7,326.6 1066.5,347.3 1080.2,363.3 1094.0,379.4 1094.0,345.0 1060.0,312.0 1020.0,284.0 990.0,269.0" fill="#4db9e8" filter="url(#b4)" opacity="0.8"/>
<ellipse cx="985" cy="335" rx="20" ry="10" fill="#7cc8d8" filter="url(#b7)" opacity="0.7"/>
<ellipse cx="1040" cy="380" rx="30" ry="10" fill="#7cc8d8" filter="url(#b7)" opacity="0.6"/>
<ellipse cx="970" cy="382" rx="8" ry="10" fill="#f6e71f" filter="url(#b4)" opacity="0.9"/>
<ellipse cx="1085" cy="367" rx="8" ry="6" fill="#3b57a8" filter="url(#b2)" opacity="0.9"/>
<ellipse cx="1093" cy="275" rx="2" ry="5" fill="#ea3a25" filter="url(#b1)" opacity="1"/>
<ellipse cx="1010" cy="350" rx="20" ry="12" fill="#e6e446" filter="url(#b12)" opacity="0.5"/>
</g>
<g clip-path="url(#t29)">
<rect x="1093.0" y="307.3" width="72.0" height="136.7" fill="#bbdb84" />
<ellipse cx="1158" cy="313" rx="10" ry="8" fill="#4a93dd" filter="url(#b4)" opacity="0.9"/>
<ellipse cx="1155" cy="365" rx="8" ry="9" fill="#b05a5a" filter="url(#spk2)" opacity="0.9"/>
<polygon points="1094.0,355.0 1094.0,379.4 1107.8,402.4 1123.8,420.7 1139.9,439.0 1152.0,443.0 1128.0,400.0 1112.0,368.0" fill="#4db9e8" filter="url(#b4)" opacity="0.85"/>
<ellipse cx="1100" cy="372" rx="8" ry="6" fill="#3b57a8" filter="url(#b2)" opacity="0.7"/>
<ellipse cx="1130" cy="335" rx="25" ry="15" fill="#e6e446" filter="url(#b12)" opacity="0.45"/>
<polygon points="1094.0,379.4 1107.8,402.4 1123.8,420.7 1139.9,443.0 1120.0,443.0 1094.0,400.0" fill="#f6e71f" filter="url(#b4)" opacity="0.8"/>
</g>
<g clip-path="url(#t30)">
<rect x="965.0" y="388.8" width="199.5" height="100.7" fill="#bbdb84" />
<polygon points="1094.0,379.4 1107.8,402.4 1123.8,420.7 1130.6,453.0 1145.2,484.8 1150.0,489.0 1125.0,489.0 1110.0,440.0 1090.0,400.0 1070.0,390.0" fill="#f6e71f" filter="url(#b4)" opacity="0.9"/>
<ellipse cx="1111" cy="417" rx="8" ry="4" fill="#f6a21c" filter="url(#b2)" opacity="0.9"/>
<ellipse cx="1074.5" cy="438.5" rx="18" ry="8" fill="#7cc8d8" filter="url(#b7)" opacity="0.9"/>
<ellipse cx="1010" cy="470" rx="25" ry="6" fill="#e6e446" filter="url(#b7)" opacity="0.6"/>
<ellipse cx="1000" cy="420" rx="30" ry="12" fill="#a6d6a6" filter="url(#b12)" opacity="0.5"/>
<polygon points="1123.8,420.7 1130.6,453.0 1145.2,484.8 1163.0,489.0 1163.0,470.0 1142.0,430.0" fill="#4db9e8" filter="url(#b4)" opacity="0.7"/>
<ellipse cx="1030" cy="400" rx="30" ry="8" fill="#e6e446" filter="url(#b7)" opacity="0.4"/>
</g>
<g clip-path="url(#t31)">
<rect x="1162.5" y="441.9" width="80.7" height="119.1" fill="#bbdb84" />
<ellipse cx="1168" cy="460" rx="4" ry="3" fill="#f6e71f" filter="url(#b2)" opacity="1"/>
<ellipse cx="1215" cy="470" rx="25" ry="10" fill="#e6e446" filter="url(#b7)" opacity="0.7"/>
<ellipse cx="1236" cy="540" rx="5" ry="18" fill="#7cc8d8" filter="url(#b4)" opacity="0.8"/>
<ellipse cx="1220" cy="520" rx="12" ry="20" fill="#e6e446" filter="url(#b7)" opacity="0.5"/>
<ellipse cx="1190" cy="500" rx="14" ry="20" fill="#7cc8d8" filter="url(#b12)" opacity="0.4"/>
</g>
<g clip-path="url(#t32)">
<rect x="1044.3" y="487.5" width="84.9" height="95.3" fill="#bbdb84" />
<ellipse cx="1053.8" cy="500.6" rx="8" ry="9" fill="#b05a5a" filter="url(#spk2)" opacity="0.9"/>
<ellipse cx="1069.7" cy="543.3" rx="7" ry="9" fill="#b05a5a" filter="url(#spk)" opacity="0.9"/>
<ellipse cx="1081.9" cy="511.6" rx="18" ry="6" fill="#7cc8d8" filter="url(#b7)" opacity="0.85"/>
<ellipse cx="1090" cy="560" rx="25" ry="12" fill="#e6e446" filter="url(#b7)" opacity="0.5"/>
</g>
<g clip-path="url(#t33)">
<rect x="1127.2" y="487.5" width="117.8" height="181.1" fill="#bbdb84" />
<polyline points="1141.2,486.8 1151.0,518.5 1163.2,547.7 1175.4,584.3 1190.0,608.7 1204.6,640.3 1219.2,674.5" fill="none" stroke="#e6e446" stroke-width="9" filter="url(#b2)" opacity="0.85" stroke-linejoin="round" stroke-linecap="round"/>
<polyline points="1152.2,482.8 1162.0,514.5 1174.2,543.7 1186.4,580.3 1201.0,604.7 1215.6,636.3 1230.2,670.5" fill="none" stroke="#7cc8d8" stroke-width="9" filter="url(#b4)" opacity="0.75" stroke-linejoin="round" stroke-linecap="round"/>
<ellipse cx="1185.4" cy="607.9" rx="7" ry="9" fill="#f6a21c" filter="url(#b2)" opacity="1"/>
<ellipse cx="1183" cy="612" rx="14" ry="18" fill="#f6e71f" filter="url(#b4)" opacity="0.8"/>
<ellipse cx="1150" cy="628.6" rx="16" ry="14" fill="#4db9e8" filter="url(#b7)" opacity="0.9"/>
<ellipse cx="1168" cy="531" rx="8" ry="16" fill="#4db9e8" filter="url(#b4)" opacity="0.9"/>
<ellipse cx="1167" cy="535" rx="3" ry="6" fill="#3f6cc6" filter="url(#b2)" opacity="0.8"/>
<ellipse cx="1131.8" cy="562.8" rx="7" ry="7" fill="#b05a5a" filter="url(#spk2)" opacity="0.9"/>
<ellipse cx="1205" cy="622" rx="6" ry="14" fill="#4db9e8" filter="url(#b4)" opacity="0.7"/>
<ellipse cx="1131" cy="655" rx="3.5" ry="14" fill="#f6a21c" filter="url(#b2)" opacity="0.9"/>
<ellipse cx="1145" cy="580" rx="10" ry="5" fill="#b05a5a" filter="url(#spk)" opacity="0.8"/>
<ellipse cx="1230" cy="560" rx="10" ry="30" fill="#e6e446" filter="url(#b7)" opacity="0.5"/>
<ellipse cx="1160" cy="590" rx="12" ry="20" fill="#e6e446" filter="url(#b7)" opacity="0.4"/>
</g>
<g clip-path="url(#t34)">
<rect x="1131.0" y="666.0" width="114.7" height="110.0" fill="#bbdb84" />
<polyline points="1208.6,638.3 1223.2,672.5 1232.0,700.0 1238.0,740.0 1240.0,775.0" fill="none" stroke="#7cc8d8" stroke-width="10" filter="url(#b4)" opacity="0.7" stroke-linejoin="round" stroke-linecap="round"/>
<ellipse cx="1137" cy="700" rx="6" ry="10" fill="#7cc8d8" filter="url(#b4)" opacity="0.8"/>
<ellipse cx="1200" cy="745" rx="12" ry="18" fill="#e6e446" filter="url(#b7)" opacity="0.7"/>
<ellipse cx="1160" cy="720" rx="20" ry="30" fill="#e6e446" filter="url(#b12)" opacity="0.4"/>
<polygon points="1195.0,667.0 1222.0,667.0 1236.0,720.0 1240.0,775.0 1228.0,775.0 1220.0,720.0" fill="#7cc8d8" filter="url(#b4)" opacity="0.5"/>
</g>
<g clip-path="url(#t35)">
<rect x="1135.7" y="774.0" width="97.3" height="154.0" fill="#bbdb84" />
<ellipse cx="1142" cy="825" rx="6" ry="10" fill="#f6e71f" filter="url(#b4)" opacity="0.8"/>
<ellipse cx="1160" cy="865" rx="10" ry="5" fill="#f6e71f" filter="url(#b4)" opacity="0.7"/>
<ellipse cx="1190" cy="810" rx="30" ry="8" fill="#e6e446" filter="url(#b7)" opacity="0.6"/>
<ellipse cx="1150" cy="790" rx="10" ry="20" fill="#7cc8d8" filter="url(#b7)" opacity="0.5"/>
<ellipse cx="1195" cy="890" rx="30" ry="10" fill="#e6e446" filter="url(#b7)" opacity="0.6"/>
<ellipse cx="1140" cy="870" rx="6" ry="14" fill="#7cc8d8" filter="url(#b4)" opacity="0.6"/>
</g>
<g clip-path="url(#t36)">
<rect x="1226.8" y="774.9" width="18.9" height="153.1" fill="#b3d88e" />
</g>
<g clip-path="url(#t37)">
<rect x="1243.7" y="666.0" width="89.8" height="162.0" fill="#b3d88e" />
<ellipse cx="1330.5" cy="705" rx="3" ry="8" fill="#3f6cc6" filter="url(#b2)" opacity="0.9"/>
<ellipse cx="1330.5" cy="748" rx="2.5" ry="5" fill="#3f6cc6" filter="url(#b2)" opacity="0.8"/>
<ellipse cx="1320" cy="740" rx="12" ry="16" fill="#f6e71f" filter="url(#b7)" opacity="0.8"/>
<ellipse cx="1300" cy="700" rx="5" ry="5" fill="#a04a6a" filter="url(#spk2)" opacity="0.95"/>
<ellipse cx="1295" cy="790" rx="32" ry="12" fill="#e6e446" filter="url(#b7)" opacity="0.7"/>
<ellipse cx="1290" cy="767" rx="35" ry="5" fill="#7cc8d8" filter="url(#b4)" opacity="0.6"/>
<ellipse cx="1300" cy="812" rx="30" ry="8" fill="#7cc8d8" filter="url(#b7)" opacity="0.6"/>
</g>
<g clip-path="url(#t38)">
<rect x="1243.7" y="826.0" width="84.6" height="102.0" fill="#b3d88e" />
<ellipse cx="1320" cy="835" rx="6" ry="7" fill="#a04a6a" filter="url(#spk2)" opacity="0.95"/>
<ellipse cx="1295" cy="832" rx="30" ry="6" fill="#7cc8d8" filter="url(#b7)" opacity="0.5"/>
<ellipse cx="1300" cy="870" rx="30" ry="10" fill="#e6e446" filter="url(#b7)" opacity="0.5"/>
</g>
<g clip-path="url(#t39)">
<rect x="1213.3" y="875.8" width="115.0" height="52.7" fill="#b3d88e" />
<polyline points="1228.0,877.0 1232.0,900.0 1242.0,927.0" fill="none" stroke="#7cc8d8" stroke-width="7" filter="url(#b4)" opacity="0.6" stroke-linejoin="round" stroke-linecap="round"/>
<ellipse cx="1290" cy="905" rx="30" ry="10" fill="#e6e446" filter="url(#b12)" opacity="0.4"/>
</g>
<g clip-path="url(#t40)">
<rect x="1210.9" y="926.0" width="119.1" height="158.5" fill="#bbdb84" />
<polyline points="1215.0,1030.0 1250.0,1020.0 1285.0,1005.0" fill="none" stroke="#a0506a" stroke-width="8" filter="url(#spk)" opacity="0.9" stroke-linejoin="round" stroke-linecap="round"/>
<ellipse cx="1322" cy="1050" rx="7" ry="8" fill="#4db9e8" filter="url(#b4)" opacity="0.9"/>
<ellipse cx="1225" cy="965" rx="14" ry="5" fill="#7cc8d8" filter="url(#b4)" opacity="0.7"/>
<ellipse cx="1270" cy="960" rx="40" ry="8" fill="#e6e446" filter="url(#b7)" opacity="0.6"/>
<ellipse cx="1290" cy="940" rx="20" ry="8" fill="#7cc8d8" filter="url(#b7)" opacity="0.5"/>
<ellipse cx="1260" cy="1060" rx="30" ry="14" fill="#e6e446" filter="url(#b12)" opacity="0.4"/>
</g>
<g clip-path="url(#t41)">
<rect x="39.1" y="1264.5" width="181.9" height="275.5" fill="#f3e62b" />
<ellipse cx="133.5" cy="1330" rx="38" ry="28" fill="#d8552e" filter="url(#spk2)" opacity="0.95"/>
<ellipse cx="120" cy="1320" rx="12" ry="12" fill="#d98a4a" filter="url(#b4)" opacity="0.3"/>
<ellipse cx="165" cy="1310" rx="8" ry="31" fill="#e0703a" filter="url(#spk)" opacity="0.95" transform="rotate(-20 165 1310)"/>
<polygon points="-50.0,1040.0 75.0,1040.0 75.0,1240.0 79.4,1265.5 87.0,1296.5 97.4,1335.0 112.9,1368.7 133.5,1399.7 154.2,1425.5 172.3,1451.3 190.3,1474.5 211.0,1497.7 231.6,1518.4 252.3,1541.6 258.4,1551.0 279.0,1579.4 294.5,1607.7 304.8,1641.3 311.3,1674.8 317.7,1711.0 322.9,1742.0 324.9,1775.8 339.2,1815.3 353.5,1851.0 367.9,1883.4 389.4,1912.0 418.0,1933.5 446.7,1951.5 468.2,1976.6 489.7,2012.4 504.0,2033.9 541.9,2091.3 570.0,2150.0 600.0,2250.0 600.0,2450.0 -50.0,2450.0" fill="url(#gc1)"/>
<ellipse cx="55" cy="1420" rx="12" ry="60" fill="#4db9e8" filter="url(#b7)" opacity="0.6"/>
</g>
<g clip-path="url(#t42)">
<rect x="162.2" y="1349.0" width="193.0" height="195.0" fill="url(#gc2)" />
<polygon points="190.0,1474.0 225.0,1470.0 275.0,1490.0 290.0,1520.0 292.0,1543.0 252.0,1543.0 231.0,1518.0 211.0,1497.0" fill="#b9da82" filter="url(#b4)" opacity="0.75"/>
<ellipse cx="300" cy="1420" rx="20" ry="12" fill="#f8d820" filter="url(#b7)" opacity="0.7"/>
<ellipse cx="250" cy="1375" rx="18" ry="6" fill="#e0703a" filter="url(#spk)" opacity="0.95"/>
<polygon points="-50.0,1040.0 75.0,1040.0 75.0,1240.0 79.4,1265.5 87.0,1296.5 97.4,1335.0 112.9,1368.7 133.5,1399.7 154.2,1425.5 172.3,1451.3 190.3,1474.5 211.0,1497.7 231.6,1518.4 252.3,1541.6 258.4,1551.0 279.0,1579.4 294.5,1607.7 304.8,1641.3 311.3,1674.8 317.7,1711.0 322.9,1742.0 324.9,1775.8 339.2,1815.3 353.5,1851.0 367.9,1883.4 389.4,1912.0 418.0,1933.5 446.7,1951.5 468.2,1976.6 489.7,2012.4 504.0,2033.9 541.9,2091.3 570.0,2150.0 600.0,2250.0 600.0,2450.0 -50.0,2450.0" fill="url(#gc2w)"/>
</g>
<g clip-path="url(#t43)">
<rect x="171.5" y="1679.0" width="138.2" height="264.5" fill="url(#gc4)" />
<polyline points="181.5,1786.6 215.0,1815.0 250.0,1860.0 289.0,1901.0" fill="none" stroke="#e0703a" stroke-width="16" filter="url(#spk)" opacity="0.95" stroke-linejoin="round" stroke-linecap="round"/>
<polyline points="175.0,1835.0 215.0,1850.0 245.0,1875.0" fill="none" stroke="#e0703a" stroke-width="9" filter="url(#spk)" opacity="0.95" stroke-linejoin="round" stroke-linecap="round"/>
</g>
<g clip-path="url(#t44)">
<rect x="170.9" y="1542.2" width="17.0" height="78.8" fill="#82d0c0" />
</g>
<g clip-path="url(#t45)">
<rect x="185.9" y="1542.2" width="147.8" height="163.3" fill="#b6d986" />
<polygon points="258.0,1543.0 333.0,1543.0 333.0,1575.0 300.0,1570.0 280.0,1580.0" fill="#4db9e8" filter="url(#b4)" opacity="0.85"/>
<ellipse cx="325" cy="1640" rx="6" ry="20" fill="#9ad3b0" filter="url(#b4)" opacity="0.7"/>
<polygon points="-50.0,1040.0 75.0,1040.0 75.0,1240.0 79.4,1265.5 87.0,1296.5 97.4,1335.0 112.9,1368.7 133.5,1399.7 154.2,1425.5 172.3,1451.3 190.3,1474.5 211.0,1497.7 231.6,1518.4 252.3,1541.6 258.4,1551.0 279.0,1579.4 294.5,1607.7 304.8,1641.3 311.3,1674.8 317.7,1711.0 322.9,1742.0 324.9,1775.8 339.2,1815.3 353.5,1851.0 367.9,1883.4 389.4,1912.0 418.0,1933.5 446.7,1951.5 468.2,1976.6 489.7,2012.4 504.0,2033.9 541.9,2091.3 570.0,2150.0 600.0,2250.0 600.0,2450.0 -50.0,2450.0" fill="url(#gc3)"/>
<ellipse cx="230" cy="1556" rx="30" ry="8" fill="#3f6cc6" filter="url(#b7)" opacity="0.6"/>
<rect x="220" y="1700" width="60" height="5" fill="#ea3a25" filter="url(#b1)" opacity="0.7"/>
</g>
<g clip-path="url(#t46)">
<rect x="307.7" y="1681.6" width="187.6" height="265.4" fill="#f3e62b" />
<polygon points="367.9,1883.4 389.4,1912.0 418.0,1933.5 446.7,1951.5 460.0,1946.0 420.0,1905.0 390.0,1880.0 372.0,1870.0" fill="#c9de6c" filter="url(#b2)" opacity="0.8"/>
<rect x="308" y="1753" width="187" height="4" fill="#e8c830" filter="url(#b1)" opacity="0.5"/>
<polygon points="-50.0,1040.0 75.0,1040.0 75.0,1240.0 79.4,1265.5 87.0,1296.5 97.4,1335.0 112.9,1368.7 133.5,1399.7 154.2,1425.5 172.3,1451.3 190.3,1474.5 211.0,1497.7 231.6,1518.4 252.3,1541.6 258.4,1551.0 279.0,1579.4 294.5,1607.7 304.8,1641.3 311.3,1674.8 317.7,1711.0 322.9,1742.0 324.9,1775.8 339.2,1815.3 353.5,1851.0 367.9,1883.4 389.4,1912.0 418.0,1933.5 446.7,1951.5 468.2,1976.6 489.7,2012.4 504.0,2033.9 541.9,2091.3 570.0,2150.0 600.0,2250.0 600.0,2450.0 -50.0,2450.0" fill="url(#gc4w)"/>
<ellipse cx="316" cy="1700" rx="5" ry="30" fill="#3b57a8" filter="url(#b2)" opacity="0.7"/>
</g>
<g clip-path="url(#t47)">
<rect x="306.7" y="1945.0" width="194.1" height="163.4" fill="url(#gc5)" />
<polygon points="389.0,1946.0 446.7,1951.5 468.2,1976.6 489.7,2012.4 500.0,2030.0 500.0,2107.0 470.0,2107.0 480.0,2050.0 450.0,1990.0 420.0,1960.0" fill="#8fd0bc" filter="url(#b4)" opacity="0.75"/>
<polyline points="443.0,1951.5 470.0,2000.0 500.0,2050.0" fill="none" stroke="#e0703a" stroke-width="9" filter="url(#spk)" opacity="0.95" stroke-linejoin="round" stroke-linecap="round"/>
<polyline points="400.0,2010.0 440.0,2030.0 480.0,2060.0 500.0,2085.0" fill="none" stroke="#e0703a" stroke-width="8" filter="url(#spk)" opacity="0.95" stroke-linejoin="round" stroke-linecap="round"/>
<ellipse cx="330" cy="1975" rx="15" ry="12" fill="#e0703a" filter="url(#spk)" opacity="0.95"/>
<ellipse cx="345" cy="1990" rx="8" ry="15" fill="#e0703a" filter="url(#spk)" opacity="0.95"/>
<ellipse cx="385" cy="2015" rx="6" ry="5" fill="#e0703a" filter="url(#spk)" opacity="0.95"/>
<ellipse cx="330" cy="2095" rx="40" ry="14" fill="#a8d69c" filter="url(#b12)" opacity="0.6"/>
</g>
<g clip-path="url(#t48)">
<rect x="498.8" y="1921.0" width="130.7" height="185.6" fill="#f3e62b" />
<rect x="495" y="1915" width="137" height="25" fill="#a9d69c" filter="url(#b7)" opacity="0.85"/>
<ellipse cx="510" cy="1930" rx="20" ry="14" fill="#b9da84" filter="url(#b7)" opacity="0.8"/>
<ellipse cx="615" cy="1935" rx="18" ry="25" fill="#b4d98a" filter="url(#b7)" opacity="0.8"/>
<polygon points="499.0,2040.0 520.0,2060.0 545.0,2095.0 550.0,2106.0 499.0,2106.0" fill="#8ed0bc" filter="url(#b4)" opacity="0.85"/>
<polygon points="503.0,2015.0 520.0,2017.0 512.0,2040.0 505.0,2035.0" fill="#e0703a" filter="url(#b2)" opacity="0.75"/>
<polyline points="505.0,2040.0 530.0,2075.0 550.0,2106.0" fill="none" stroke="#e0703a" stroke-width="9" filter="url(#spk)" opacity="0.95" stroke-linejoin="round" stroke-linecap="round"/>
<ellipse cx="600" cy="2070" rx="30" ry="30" fill="#dfe34e" filter="url(#b12)" opacity="0.6"/>
</g>
<g clip-path="url(#t49)">
<rect x="450.0" y="2104.6" width="181.2" height="88.7" fill="#cfdf66" />
<ellipse cx="590" cy="2180" rx="40" ry="12" fill="#9bd3b0" filter="url(#b7)" opacity="0.8"/>
<ellipse cx="480" cy="2185" rx="30" ry="8" fill="#a8d69c" filter="url(#b7)" opacity="0.7"/>
<polyline points="510.0,2108.0 522.0,2140.0 515.0,2170.0" fill="none" stroke="#e0703a" stroke-width="8" filter="url(#spk)" opacity="0.95" stroke-linejoin="round" stroke-linecap="round"/>
<polyline points="548.0,2106.0 560.0,2140.0 565.0,2180.0" fill="none" stroke="#e0703a" stroke-width="8" filter="url(#spk)" opacity="0.95" stroke-linejoin="round" stroke-linecap="round"/>
<ellipse cx="560" cy="2188" rx="22" ry="9" fill="#d8452e" filter="url(#spk2)" opacity="0.95"/>
<polyline points="570.0,2175.0 600.0,2150.0 615.0,2135.0" fill="none" stroke="#e0703a" stroke-width="8" filter="url(#spk)" opacity="0.95" stroke-linejoin="round" stroke-linecap="round"/>
<ellipse cx="620" cy="2120" rx="12" ry="30" fill="#f6e71f" filter="url(#b7)" opacity="0.7"/>
</g>
<g clip-path="url(#t50)">
<rect x="450.0" y="2191.3" width="181.2" height="83.7" fill="#eee533" />
<polyline points="548.0,2192.0 575.0,2225.0 600.0,2255.0 622.0,2276.0" fill="none" stroke="#d0563a" stroke-width="30" filter="url(#spk2)" opacity="0.95" stroke-linejoin="round" stroke-linecap="round"/>
<polyline points="555.0,2195.0 580.0,2230.0 603.0,2260.0" fill="none" stroke="#8a78a8" stroke-width="8" filter="url(#spk)" opacity="0.9" stroke-linejoin="round" stroke-linecap="round"/>
<polyline points="470.0,2200.0 500.0,2240.0 520.0,2262.0" fill="none" stroke="#e0703a" stroke-width="8" filter="url(#spk)" opacity="0.95" stroke-linejoin="round" stroke-linecap="round"/>
<ellipse cx="495" cy="2205" rx="22" ry="10" fill="#e0703a" filter="url(#spk)" opacity="0.95"/>
</g>
<g clip-path="url(#t51)">
<rect x="776.2" y="1256.5" width="179.4" height="89.1" fill="#bfdb7f" />
<polyline points="805.0,1258.0 820.0,1290.0 840.0,1345.0" fill="none" stroke="#8ed0c0" stroke-width="18" filter="url(#b7)" opacity="0.7" stroke-linejoin="round" stroke-linecap="round"/>
<ellipse cx="867.5" cy="1327.4" rx="34" ry="22" fill="#c8603a" filter="url(#spk2)" opacity="0.95"/>
<ellipse cx="850" cy="1322" rx="14" ry="10" fill="#b8805a" filter="url(#b4)" opacity="0.3"/>
<ellipse cx="905" cy="1300" rx="5" ry="31" fill="#e0703a" filter="url(#spk)" opacity="0.95" transform="rotate(15 905 1300)"/>
<ellipse cx="790" cy="1320" rx="12" ry="25" fill="#d8e25c" filter="url(#b7)" opacity="0.7"/>
<rect x="880" y="1257" width="5" height="4" fill="#ea3a25" opacity="0.9"/>
<rect x="925" y="1257" width="29" height="2" fill="#ea3a25" opacity="0.6"/>
</g>
<g clip-path="url(#t52)">
<rect x="770.8" y="1343.6" width="319.2" height="197.0" fill="url(#gd2e)" />
<ellipse cx="870" cy="1354" rx="32" ry="12" fill="#b8604a" filter="url(#spk)" opacity="0.9"/>
<ellipse cx="1027" cy="1528" rx="10" ry="8" fill="#3b57a8" filter="url(#b4)" opacity="0.7"/>
<ellipse cx="1078" cy="1470" rx="16" ry="40" fill="#a6d6a0" filter="url(#b12)" opacity="0.7"/>
<ellipse cx="1015" cy="1512" rx="34" ry="22" fill="#52bbe6" filter="url(#b12)" opacity="0.8"/>
<ellipse cx="1010" cy="1370" rx="5" ry="5" fill="#e0703a" filter="url(#spk)" opacity="0.95"/>
<polygon points="-50.0,1120.0 820.0,1120.0 820.0,1320.0 837.0,1345.4 867.5,1395.5 896.2,1431.4 921.3,1474.4 946.4,1503.0 975.0,1531.7 996.6,1560.4 1018.0,1589.0 1036.0,1625.0 1046.7,1660.8 1053.9,1696.6 1049.3,1745.0 1063.8,1785.0 1078.2,1824.8 1100.0,1868.2 1125.3,1900.8 1157.9,1929.8 1190.5,1962.4 1215.8,1987.7 1233.9,2009.4 1260.0,2050.0 1260.0,2250.0 -50.0,2250.0" fill="url(#gd2w)"/>
<ellipse cx="917.7" cy="1478" rx="6" ry="4" fill="#f6a21c" filter="url(#b2)" opacity="0.9"/>
<ellipse cx="950" cy="1510" rx="8" ry="5" fill="#f6a21c" filter="url(#b2)" opacity="0.9"/>
<ellipse cx="800" cy="1440" rx="20" ry="60" fill="#b4d88a" filter="url(#b12)" opacity="0.5"/>
<polyline points="867.5,1395.5 896.2,1431.4 921.3,1474.4 946.4,1503.0 975.0,1531.7" fill="none" stroke="#f6e71f" stroke-width="10" filter="url(#b4)" opacity="0.8" stroke-linejoin="round" stroke-linecap="round"/>
</g>
<g clip-path="url(#t53)">
<rect x="904.2" y="1538.6" width="17.8" height="80.2" fill="#bfdb7f" />
</g>
<g clip-path="url(#t54)">
<rect x="920.0" y="1538.6" width="148.5" height="141.1" fill="#a8d6a0" />
<polygon points="975.0,1531.7 996.6,1560.4 1018.0,1589.0 1036.0,1625.0 1046.7,1660.8 1053.9,1696.6 1068.0,1680.0 1068.0,1600.0 1050.0,1560.0 1020.0,1539.0" fill="#4db9e8" filter="url(#b4)" opacity="0.8"/>
<ellipse cx="1012.7" cy="1547.9" rx="8" ry="9" fill="#3b57a8" filter="url(#b4)" opacity="0.9"/>
<ellipse cx="1032.4" cy="1592.7" rx="8" ry="12" fill="#3f6cc6" filter="url(#b4)" opacity="0.8"/>
<ellipse cx="1055" cy="1640" rx="6" ry="20" fill="#3f6cc6" filter="url(#b4)" opacity="0.5"/>
<polygon points="-50.0,1120.0 820.0,1120.0 820.0,1320.0 837.0,1345.4 867.5,1395.5 896.2,1431.4 921.3,1474.4 946.4,1503.0 975.0,1531.7 996.6,1560.4 1018.0,1589.0 1036.0,1625.0 1046.7,1660.8 1053.9,1696.6 1049.3,1745.0 1063.8,1785.0 1078.2,1824.8 1100.0,1868.2 1125.3,1900.8 1157.9,1929.8 1190.5,1962.4 1215.8,1987.7 1233.9,2009.4 1260.0,2050.0 1260.0,2250.0 -50.0,2250.0" fill="#d6e25a"/>
<polyline points="975.0,1531.7 996.6,1560.4 1018.0,1589.0 1036.0,1625.0 1046.7,1660.8" fill="none" stroke="#f6e71f" stroke-width="14" filter="url(#b4)" opacity="0.85" stroke-linejoin="round" stroke-linecap="round"/>
<ellipse cx="993" cy="1567.6" rx="5" ry="8" fill="#f6a21c" filter="url(#b2)" opacity="0.9"/>
<ellipse cx="1018" cy="1599.8" rx="5" ry="8" fill="#f6a21c" filter="url(#b2)" opacity="0.8"/>
<ellipse cx="940" cy="1600" rx="14" ry="30" fill="#bfdb7f" filter="url(#b7)" opacity="0.7"/>
<ellipse cx="985" cy="1665" rx="10" ry="8" fill="#4db9e8" filter="url(#b4)" opacity="0.6"/>
</g>
<g clip-path="url(#t55)">
<rect x="907.1" y="1677.7" width="324.2" height="86.6" fill="#bfdb7f" />
<polyline points="1046.7,1660.8 1053.9,1696.6 1049.3,1745.0 1055.0,1765.0" fill="none" stroke="#7fcbd0" stroke-width="14" filter="url(#b4)" opacity="0.7" stroke-linejoin="round" stroke-linecap="round"/>
<rect x="965" y="1700" width="105" height="3" fill="#ea3a25" filter="url(#b1)" opacity="0.6"/>
<ellipse cx="945" cy="1690" rx="30" ry="12" fill="#dfe34e" filter="url(#b7)" opacity="0.8"/>
<ellipse cx="1000" cy="1730" rx="45" ry="22" fill="#dbe356" filter="url(#b12)" opacity="0.6"/>
<ellipse cx="1010" cy="1720" rx="30" ry="20" fill="#d3e162" filter="url(#b12)" opacity="0.6"/>
<ellipse cx="1150" cy="1730" rx="40" ry="20" fill="#a4d5a2" filter="url(#b12)" opacity="0.6"/>
</g>
<g clip-path="url(#t56)">
<rect x="1045.4" y="1751.4" width="185.9" height="110.6" fill="#bfdb7f" />
<ellipse cx="1140" cy="1790" rx="40" ry="25" fill="#cfe068" filter="url(#b12)" opacity="0.7"/>
</g>
<g clip-path="url(#t57)">
<rect x="904.2" y="1762.3" width="143.2" height="178.7" fill="#bfdb7f" />
<polyline points="905.0,1830.0 945.0,1850.0 985.0,1885.0 1025.0,1900.0" fill="none" stroke="#e0703a" stroke-width="16" filter="url(#spk)" opacity="0.95" stroke-linejoin="round" stroke-linecap="round"/>
<polyline points="920.0,1785.0 960.0,1830.0 1000.0,1870.0" fill="none" stroke="#e0703a" stroke-width="9" filter="url(#spk)" opacity="0.95" stroke-linejoin="round" stroke-linecap="round"/>
<ellipse cx="912" cy="1775" rx="14" ry="14" fill="#8ed0c4" filter="url(#b7)" opacity="0.8"/>
<ellipse cx="945" cy="1915" rx="40" ry="18" fill="#dbe356" filter="url(#b12)" opacity="0.6"/>
<ellipse cx="920" cy="1925" rx="20" ry="14" fill="#8ed0c4" filter="url(#b7)" opacity="0.7"/>
<ellipse cx="1000" cy="1800" rx="30" ry="20" fill="#c6dd74" filter="url(#b12)" opacity="0.6"/>
</g>
<g clip-path="url(#t58)">
<rect x="1045.4" y="1751.4" width="189.6" height="189.6" fill="#bfdb7f" />
<polygon points="1049.3,1745.0 1063.8,1785.0 1078.2,1824.8 1100.0,1868.2 1125.3,1900.8 1157.9,1929.8 1170.0,1940.0 1132.0,1940.0 1090.0,1892.0 1066.0,1842.0 1050.0,1795.0" fill="#f6e71f" filter="url(#b4)" opacity="0.8"/>
<ellipse cx="1085" cy="1868" rx="8" ry="22" fill="#f6e71f" filter="url(#b4)" opacity="0.8" transform="rotate(-25 1085 1868)"/>
<polygon points="1049.3,1745.0 1063.8,1785.0 1078.2,1824.8 1100.0,1868.2 1125.3,1900.8 1157.9,1929.8 1170.0,1942.0 1236.0,1942.0 1236.0,1898.0 1195.0,1882.0 1152.0,1856.0 1114.0,1815.0 1090.0,1770.0 1070.0,1752.0" fill="#86cec8" filter="url(#b7)" opacity="0.75"/>
<ellipse cx="1160" cy="1800" rx="30" ry="30" fill="#d3e162" filter="url(#b12)" opacity="0.6"/>
<ellipse cx="1052" cy="1930" rx="8" ry="10" fill="#4db9e8" filter="url(#b4)" opacity="0.8"/>
<ellipse cx="1200" cy="1850" rx="20" ry="30" fill="#c9df6c" filter="url(#b12)" opacity="0.5"/>
</g>
<g clip-path="url(#t59)">
<rect x="1233.0" y="1918.0" width="131.5" height="187.6" fill="#bfdb7f" />
<ellipse cx="1345" cy="1940" rx="20" ry="25" fill="#7fcbd4" filter="url(#b7)" opacity="0.8"/>
<polyline points="1233.0,2044.0 1262.0,2066.0 1280.0,2100.0 1284.0,2106.0" fill="none" stroke="#e0703a" stroke-width="9" filter="url(#spk)" opacity="0.95" stroke-linejoin="round" stroke-linecap="round"/>
<polyline points="1236.0,2062.0 1258.0,2092.0 1262.0,2106.0" fill="none" stroke="#e0703a" stroke-width="7" filter="url(#spk)" opacity="0.9" stroke-linejoin="round" stroke-linecap="round"/>
<ellipse cx="1295" cy="1985" rx="28" ry="22" fill="#dde350" filter="url(#b12)" opacity="0.75"/>
<polygon points="1236.0,2012.0 1256.0,2014.0 1246.0,2040.0 1239.0,2035.0" fill="#e0703a" filter="url(#b2)" opacity="0.7"/>
<ellipse cx="1243" cy="2040" rx="8" ry="10" fill="#f6e71f" filter="url(#b4)" opacity="0.8"/>
<ellipse cx="1340" cy="2060" rx="14" ry="30" fill="#d3e162" filter="url(#b7)" opacity="0.6"/>
</g>
<g clip-path="url(#t60)">
<rect x="1041.0" y="1939.0" width="194.0" height="166.6" fill="#bfdb7f" />
<polygon points="1157.9,1929.8 1190.5,1962.4 1215.8,1987.7 1234.0,2009.4 1234.0,1940.0" fill="#78cbd6" filter="url(#b4)" opacity="0.8"/>
<polyline points="1170.0,1945.0 1200.0,2000.0 1234.0,2040.0" fill="none" stroke="#e0703a" stroke-width="9" filter="url(#spk)" opacity="0.95" stroke-linejoin="round" stroke-linecap="round"/>
<polyline points="1130.0,2000.0 1180.0,2030.0 1234.0,2060.0" fill="none" stroke="#e0703a" stroke-width="8" filter="url(#spk)" opacity="0.95" stroke-linejoin="round" stroke-linecap="round"/>
<ellipse cx="1058" cy="1975" rx="12" ry="10" fill="#e0703a" filter="url(#spk)" opacity="0.95"/>
<ellipse cx="1080" cy="1985" rx="8" ry="12" fill="#e0703a" filter="url(#spk)" opacity="0.95"/>
<ellipse cx="1120" cy="2010" rx="5" ry="5" fill="#e0703a" filter="url(#spk)" opacity="0.95"/>
<ellipse cx="1185" cy="1950" rx="5" ry="3" fill="#ea3a25" filter="url(#b1)" opacity="0.6"/>
<rect x="1229" y="1909" width="5" height="5" fill="#e8202a" opacity="0.95"/>
<ellipse cx="1100" cy="1960" rx="30" ry="20" fill="#d6e25c" filter="url(#b12)" opacity="0.6"/>
<ellipse cx="1052" cy="2075" rx="10" ry="30" fill="#e3e44c" filter="url(#b7)" opacity="0.7"/>
<ellipse cx="1120" cy="2070" rx="40" ry="20" fill="#cfe068" filter="url(#b12)" opacity="0.5"/>
</g>
<g clip-path="url(#t61)">
<rect x="1176.8" y="2103.6" width="190.2" height="169.4" fill="#bfdb7f" />
<polyline points="1281.0,2186.8 1310.0,2220.0 1335.0,2250.0 1353.4,2270.0" fill="none" stroke="#cc5238" stroke-width="32" filter="url(#spk2)" opacity="0.95" stroke-linejoin="round" stroke-linecap="round"/>
<polyline points="1285.0,2190.0 1315.0,2228.0 1340.0,2258.0" fill="none" stroke="#8a78a8" stroke-width="10" filter="url(#spk)" opacity="0.9" stroke-linejoin="round" stroke-linecap="round"/>
<polyline points="1234.0,2060.0 1262.0,2100.0 1275.0,2130.0" fill="none" stroke="#e0703a" stroke-width="8" filter="url(#spk)" opacity="0.95" stroke-linejoin="round" stroke-linecap="round"/>
<polyline points="1240.0,2110.0 1255.0,2150.0 1250.0,2190.0" fill="none" stroke="#e0703a" stroke-width="8" filter="url(#spk)" opacity="0.95" stroke-linejoin="round" stroke-linecap="round"/>
<ellipse cx="1335" cy="2240" rx="14" ry="18" fill="#e8e23a" filter="url(#b4)" opacity="0.6"/>
<ellipse cx="1225" cy="2205" rx="25" ry="10" fill="#e0703a" filter="url(#spk)" opacity="0.95"/>
<ellipse cx="1290" cy="2150" rx="25" ry="20" fill="#c6dd74" filter="url(#b12)" opacity="0.5"/>
</g>
<rect x="19.7" y="52.2" width="623.4" height="1046.9" fill="none" stroke="#000" stroke-width="3.9"/>
<rect x="759.1" y="49.1" width="623.0" height="1046.9" fill="none" stroke="#000" stroke-width="3.9"/>
<rect x="23.9" y="1246.7" width="623.4" height="1046.3" fill="none" stroke="#000" stroke-width="3.9"/>
<rect x="758.8" y="1244.1" width="623.2" height="1046.9" fill="none" stroke="#000" stroke-width="3.9"/>
<line x1="50.25" y1="43.8" x2="50.25" y2="52.2" stroke="#000" stroke-width="3.6" stroke-linecap="round"/>
<line x1="150.7" y1="43.8" x2="150.7" y2="52.2" stroke="#000" stroke-width="3.6" stroke-linecap="round"/>
<line x1="251.15" y1="43.8" x2="251.15" y2="52.2" stroke="#000" stroke-width="3.6" stroke-linecap="round"/>
<line x1="351.6" y1="43.8" x2="351.6" y2="52.2" stroke="#000" stroke-width="3.6" stroke-linecap="round"/>
<line x1="452.05" y1="43.8" x2="452.05" y2="52.2" stroke="#000" stroke-width="3.6" stroke-linecap="round"/>
<line x1="50.25" y1="1099.1" x2="50.25" y2="1108.7" stroke="#000" stroke-width="3.6" stroke-linecap="round"/>
<line x1="150.7" y1="1099.1" x2="150.7" y2="1108.7" stroke="#000" stroke-width="3.6" stroke-linecap="round"/>
<line x1="251.15" y1="1099.1" x2="251.15" y2="1108.7" stroke="#000" stroke-width="3.6" stroke-linecap="round"/>
<line x1="351.6" y1="1099.1" x2="351.6" y2="1108.7" stroke="#000" stroke-width="3.6" stroke-linecap="round"/>
<line x1="452.05" y1="1099.1" x2="452.05" y2="1108.7" stroke="#000" stroke-width="3.6" stroke-linecap="round"/>
<line x1="552.5" y1="1099.1" x2="552.5" y2="1108.7" stroke="#000" stroke-width="3.6" stroke-linecap="round"/>
<line x1="11.100000000000001" y1="107.5" x2="19.7" y2="107.5" stroke="#000" stroke-width="3.6" stroke-linecap="round"/>
<line x1="11.100000000000001" y1="251.0" x2="19.7" y2="251.0" stroke="#000" stroke-width="3.6" stroke-linecap="round"/>
<line x1="11.100000000000001" y1="394.5" x2="19.7" y2="394.5" stroke="#000" stroke-width="3.6" stroke-linecap="round"/>
<line x1="11.100000000000001" y1="538.0" x2="19.7" y2="538.0" stroke="#000" stroke-width="3.6" stroke-linecap="round"/>
<line x1="11.100000000000001" y1="681.5" x2="19.7" y2="681.5" stroke="#000" stroke-width="3.6" stroke-linecap="round"/>
<line x1="11.100000000000001" y1="825.0" x2="19.7" y2="825.0" stroke="#000" stroke-width="3.6" stroke-linecap="round"/>
<line x1="11.100000000000001" y1="968.5" x2="19.7" y2="968.5" stroke="#000" stroke-width="3.6" stroke-linecap="round"/>
<line x1="643.1" y1="394.5" x2="652.5" y2="394.5" stroke="#000" stroke-width="3.6" stroke-linecap="round"/>
<line x1="643.1" y1="538.0" x2="652.5" y2="538.0" stroke="#000" stroke-width="3.6" stroke-linecap="round"/>
<line x1="643.1" y1="681.5" x2="652.5" y2="681.5" stroke="#000" stroke-width="3.6" stroke-linecap="round"/>
<line x1="643.1" y1="825.0" x2="652.5" y2="825.0" stroke="#000" stroke-width="3.6" stroke-linecap="round"/>
<line x1="643.1" y1="968.5" x2="652.5" y2="968.5" stroke="#000" stroke-width="3.6" stroke-linecap="round"/>
<line x1="789.3" y1="40.599999999999994" x2="789.3" y2="49.1" stroke="#000" stroke-width="3.6" stroke-linecap="round"/>
<line x1="889.75" y1="40.599999999999994" x2="889.75" y2="49.1" stroke="#000" stroke-width="3.6" stroke-linecap="round"/>
<line x1="990.1999999999999" y1="40.599999999999994" x2="990.1999999999999" y2="49.1" stroke="#000" stroke-width="3.6" stroke-linecap="round"/>
<line x1="1090.65" y1="40.599999999999994" x2="1090.65" y2="49.1" stroke="#000" stroke-width="3.6" stroke-linecap="round"/>
<line x1="1191.1" y1="40.599999999999994" x2="1191.1" y2="49.1" stroke="#000" stroke-width="3.6" stroke-linecap="round"/>
<line x1="1291.55" y1="40.599999999999994" x2="1291.55" y2="49.1" stroke="#000" stroke-width="3.6" stroke-linecap="round"/>
<line x1="789.3" y1="1096.0" x2="789.3" y2="1106.2" stroke="#000" stroke-width="3.6" stroke-linecap="round"/>
<line x1="889.75" y1="1096.0" x2="889.75" y2="1106.2" stroke="#000" stroke-width="3.6" stroke-linecap="round"/>
<line x1="990.1999999999999" y1="1096.0" x2="990.1999999999999" y2="1106.2" stroke="#000" stroke-width="3.6" stroke-linecap="round"/>
<line x1="1090.65" y1="1096.0" x2="1090.65" y2="1106.2" stroke="#000" stroke-width="3.6" stroke-linecap="round"/>
<line x1="1191.1" y1="1096.0" x2="1191.1" y2="1106.2" stroke="#000" stroke-width="3.6" stroke-linecap="round"/>
<line x1="1291.55" y1="1096.0" x2="1291.55" y2="1106.2" stroke="#000" stroke-width="3.6" stroke-linecap="round"/>
<line x1="750.4" y1="104.6" x2="759.1" y2="104.6" stroke="#000" stroke-width="3.6" stroke-linecap="round"/>
<line x1="750.4" y1="248.0" x2="759.1" y2="248.0" stroke="#000" stroke-width="3.6" stroke-linecap="round"/>
<line x1="750.4" y1="391.4" x2="759.1" y2="391.4" stroke="#000" stroke-width="3.6" stroke-linecap="round"/>
<line x1="750.4" y1="534.8000000000001" x2="759.1" y2="534.8000000000001" stroke="#000" stroke-width="3.6" stroke-linecap="round"/>
<line x1="750.4" y1="678.2" x2="759.1" y2="678.2" stroke="#000" stroke-width="3.6" stroke-linecap="round"/>
<line x1="750.4" y1="821.6" x2="759.1" y2="821.6" stroke="#000" stroke-width="3.6" stroke-linecap="round"/>
<line x1="750.4" y1="965.0000000000001" x2="759.1" y2="965.0000000000001" stroke="#000" stroke-width="3.6" stroke-linecap="round"/>
<line x1="1382.1" y1="104.6" x2="1395.2" y2="104.6" stroke="#000" stroke-width="3.6" stroke-linecap="round"/>
<line x1="1382.1" y1="248.0" x2="1395.2" y2="248.0" stroke="#000" stroke-width="3.6" stroke-linecap="round"/>
<line x1="1382.1" y1="391.4" x2="1395.2" y2="391.4" stroke="#000" stroke-width="3.6" stroke-linecap="round"/>
<line x1="1382.1" y1="534.8000000000001" x2="1395.2" y2="534.8000000000001" stroke="#000" stroke-width="3.6" stroke-linecap="round"/>
<line x1="1382.1" y1="678.2" x2="1395.2" y2="678.2" stroke="#000" stroke-width="3.6" stroke-linecap="round"/>
<line x1="1382.1" y1="821.6" x2="1395.2" y2="821.6" stroke="#000" stroke-width="3.6" stroke-linecap="round"/>
<line x1="1382.1" y1="965.0000000000001" x2="1395.2" y2="965.0000000000001" stroke="#000" stroke-width="3.6" stroke-linecap="round"/>
<line x1="36" y1="1238.0" x2="36" y2="1246.7" stroke="#000" stroke-width="3.6" stroke-linecap="round"/>
<line x1="199.6" y1="1238.0" x2="199.6" y2="1246.7" stroke="#000" stroke-width="3.6" stroke-linecap="round"/>
<line x1="363.3" y1="1238.0" x2="363.3" y2="1246.7" stroke="#000" stroke-width="3.6" stroke-linecap="round"/>
<line x1="526.9" y1="1238.0" x2="526.9" y2="1246.7" stroke="#000" stroke-width="3.6" stroke-linecap="round"/>
<line x1="36" y1="2293.0" x2="36" y2="2301.7" stroke="#000" stroke-width="3.6" stroke-linecap="round"/>
<line x1="199.6" y1="2293.0" x2="199.6" y2="2301.7" stroke="#000" stroke-width="3.6" stroke-linecap="round"/>
<line x1="363.3" y1="2293.0" x2="363.3" y2="2301.7" stroke="#000" stroke-width="3.6" stroke-linecap="round"/>
<line x1="526.9" y1="2293.0" x2="526.9" y2="2301.7" stroke="#000" stroke-width="3.6" stroke-linecap="round"/>
<line x1="15.0" y1="1251.8" x2="23.9" y2="1251.8" stroke="#000" stroke-width="3.6" stroke-linecap="round"/>
<line x1="15.0" y1="1485" x2="23.9" y2="1485" stroke="#000" stroke-width="3.6" stroke-linecap="round"/>
<line x1="15.0" y1="1719.5" x2="23.9" y2="1719.5" stroke="#000" stroke-width="3.6" stroke-linecap="round"/>
<line x1="15.0" y1="1954.2" x2="23.9" y2="1954.2" stroke="#000" stroke-width="3.6" stroke-linecap="round"/>
<line x1="15.0" y1="2188" x2="23.9" y2="2188" stroke="#000" stroke-width="3.6" stroke-linecap="round"/>
<line x1="647.3" y1="1251.8" x2="656.5" y2="1251.8" stroke="#000" stroke-width="3.6" stroke-linecap="round"/>
<line x1="647.3" y1="1485" x2="656.5" y2="1485" stroke="#000" stroke-width="3.6" stroke-linecap="round"/>
<line x1="647.3" y1="1719.5" x2="656.5" y2="1719.5" stroke="#000" stroke-width="3.6" stroke-linecap="round"/>
<line x1="647.3" y1="1954.2" x2="656.5" y2="1954.2" stroke="#000" stroke-width="3.6" stroke-linecap="round"/>
<line x1="647.3" y1="2188" x2="656.5" y2="2188" stroke="#000" stroke-width="3.6" stroke-linecap="round"/>
<line x1="770.7" y1="1235.8" x2="770.7" y2="1244.1" stroke="#000" stroke-width="3.6" stroke-linecap="round"/>
<line x1="934.6" y1="1235.8" x2="934.6" y2="1244.1" stroke="#000" stroke-width="3.6" stroke-linecap="round"/>
<line x1="1098.8" y1="1235.8" x2="1098.8" y2="1244.1" stroke="#000" stroke-width="3.6" stroke-linecap="round"/>
<line x1="1263" y1="1235.8" x2="1263" y2="1244.1" stroke="#000" stroke-width="3.6" stroke-linecap="round"/>
<line x1="770.7" y1="2291.0" x2="770.7" y2="2299.7" stroke="#000" stroke-width="3.6" stroke-linecap="round"/>
<line x1="934.6" y1="2291.0" x2="934.6" y2="2299.7" stroke="#000" stroke-width="3.6" stroke-linecap="round"/>
<line x1="1098.8" y1="2291.0" x2="1098.8" y2="2299.7" stroke="#000" stroke-width="3.6" stroke-linecap="round"/>
<line x1="1263" y1="2291.0" x2="1263" y2="2299.7" stroke="#000" stroke-width="3.6" stroke-linecap="round"/>
<line x1="750.0" y1="1249.5" x2="758.8" y2="1249.5" stroke="#000" stroke-width="3.6" stroke-linecap="round"/>
<line x1="750.0" y1="1483" x2="758.8" y2="1483" stroke="#000" stroke-width="3.6" stroke-linecap="round"/>
<line x1="750.0" y1="1717.7" x2="758.8" y2="1717.7" stroke="#000" stroke-width="3.6" stroke-linecap="round"/>
<line x1="750.0" y1="1951.5" x2="758.8" y2="1951.5" stroke="#000" stroke-width="3.6" stroke-linecap="round"/>
<line x1="750.0" y1="2185" x2="758.8" y2="2185" stroke="#000" stroke-width="3.6" stroke-linecap="round"/>
<line x1="1382.0" y1="1249.5" x2="1395.2" y2="1249.5" stroke="#000" stroke-width="3.6" stroke-linecap="round"/>
<line x1="1382.0" y1="1483" x2="1395.2" y2="1483" stroke="#000" stroke-width="3.6" stroke-linecap="round"/>
<line x1="1382.0" y1="1717.7" x2="1395.2" y2="1717.7" stroke="#000" stroke-width="3.6" stroke-linecap="round"/>
<line x1="1382.0" y1="1951.5" x2="1395.2" y2="1951.5" stroke="#000" stroke-width="3.6" stroke-linecap="round"/>
<line x1="1382.0" y1="2185" x2="1395.2" y2="2185" stroke="#000" stroke-width="3.6" stroke-linecap="round"/>
<text x="-0.85" y="30.3" font-size="38.8" font-weight="bold" fill="#231f20" font-family='"Liberation Sans", sans-serif' textLength="122.55" lengthAdjust="spacingAndGlyphs" stroke="#231f20" stroke-width="1.1">521000</text>
<text x="199.16" y="30.3" font-size="38.8" font-weight="bold" fill="#231f20" font-family='"Liberation Sans", sans-serif' textLength="121.73" lengthAdjust="spacingAndGlyphs" stroke="#231f20" stroke-width="1.1">535000</text>
<text x="398.75" y="30.3" font-size="38.8" font-weight="bold" fill="#231f20" font-family='"Liberation Sans", sans-serif' textLength="122.55" lengthAdjust="spacingAndGlyphs" stroke="#231f20" stroke-width="1.1">549000</text>
<text x="730.65" y="27.3" font-size="38.8" font-weight="bold" fill="#231f20" font-family='"Liberation Sans", sans-serif' textLength="122.34" lengthAdjust="spacingAndGlyphs" stroke="#231f20" stroke-width="1.1">521000</text>
<text x="930.45" y="27.3" font-size="38.8" font-weight="bold" fill="#231f20" font-family='"Liberation Sans", sans-serif' textLength="121.83" lengthAdjust="spacingAndGlyphs" stroke="#231f20" stroke-width="1.1">535000</text>
<text x="1130.45" y="27.3" font-size="38.8" font-weight="bold" fill="#231f20" font-family='"Liberation Sans", sans-serif' textLength="122.14" lengthAdjust="spacingAndGlyphs" stroke="#231f20" stroke-width="1.1">549000</text>
<text x="-0.85" y="1226" font-size="38.8" font-weight="bold" fill="#231f20" font-family='"Liberation Sans", sans-serif' textLength="122.34" lengthAdjust="spacingAndGlyphs" stroke="#231f20" stroke-width="1.1">556000</text>
<text x="308.24" y="1226" font-size="38.8" font-weight="bold" fill="#231f20" font-family='"Liberation Sans", sans-serif' textLength="123.06" lengthAdjust="spacingAndGlyphs" stroke="#231f20" stroke-width="1.1">570000</text>
<text x="721.94" y="1222.7" font-size="38.8" font-weight="bold" fill="#231f20" font-family='"Liberation Sans", sans-serif' textLength="123.36" lengthAdjust="spacingAndGlyphs" stroke="#231f20" stroke-width="1.1">556000</text>
<text x="1032.45" y="1222.7" font-size="38.8" font-weight="bold" fill="#231f20" font-family='"Liberation Sans", sans-serif' textLength="122.85" lengthAdjust="spacingAndGlyphs" stroke="#231f20" stroke-width="1.1">570000</text>
<text x="177.25" y="91.2" font-size="34.8" font-weight="bold" fill="#231f20" font-family='"Liberation Sans", sans-serif' textLength="206.8" lengthAdjust="spacingAndGlyphs" stroke="#231f20" stroke-width="0.8">UTM Easting</text>
<text x="959.05" y="95.4" font-size="34.8" font-weight="bold" fill="#231f20" font-family='"Liberation Sans", sans-serif' textLength="207.1" lengthAdjust="spacingAndGlyphs" stroke="#231f20" stroke-width="0.8">UTM Easting</text>
<text x="226.95" y="1284.5" font-size="34.8" font-weight="bold" fill="#231f20" font-family='"Liberation Sans", sans-serif' textLength="207.1" lengthAdjust="spacingAndGlyphs" stroke="#231f20" stroke-width="0.8">UTM Easting</text>
<text x="988.35" y="1284.3" font-size="34.8" font-weight="bold" fill="#231f20" font-family='"Liberation Sans", sans-serif' textLength="207.1" lengthAdjust="spacingAndGlyphs" stroke="#231f20" stroke-width="0.8">UTM Easting</text>
<text x="427.06" y="91.4" font-size="48.5" font-weight="bold" fill="#231f20" font-family='"Liberation Sans", sans-serif' textLength="23.08" lengthAdjust="spacingAndGlyphs" stroke="#231f20" stroke-width="1.0">a</text>
<text x="1326.57" y="97" font-size="48.5" font-weight="bold" fill="#231f20" font-family='"Liberation Sans", sans-serif' textLength="29.39" lengthAdjust="spacingAndGlyphs" stroke="#231f20" stroke-width="1.0">b</text>
<text x="578.99" y="1285.2" font-size="47" font-weight="bold" fill="#231f20" font-family='"Liberation Sans", sans-serif' textLength="22.36" lengthAdjust="spacingAndGlyphs" stroke="#231f20" stroke-width="1.0">c</text>
<text x="1331.12" y="1289.4" font-size="48" font-weight="bold" fill="#231f20" font-family='"Liberation Sans", sans-serif' textLength="31.81" lengthAdjust="spacingAndGlyphs" stroke="#231f20" stroke-width="1.0">d</text>
<text x="715.1" y="478.58" font-size="38.8" font-weight="bold" fill="#231f20" font-family='"Liberation Sans", sans-serif' textLength="142.21" lengthAdjust="spacingAndGlyphs" transform="rotate(-90 715.1 478.58)" stroke="#231f20" stroke-width="1.1">3820000</text>
<text x="715.1" y="750.68" font-size="38.8" font-weight="bold" fill="#231f20" font-family='"Liberation Sans", sans-serif' textLength="142.21" lengthAdjust="spacingAndGlyphs" transform="rotate(-90 715.1 750.68)" stroke="#231f20" stroke-width="1.1">3800000</text>
<text x="715.1" y="1040.98" font-size="38.8" font-weight="bold" fill="#231f20" font-family='"Liberation Sans", sans-serif' textLength="142.21" lengthAdjust="spacingAndGlyphs" transform="rotate(-90 715.1 1040.98)" stroke="#231f20" stroke-width="1.1">3780000</text>
<text x="715.1" y="1544.88" font-size="38.8" font-weight="bold" fill="#231f20" font-family='"Liberation Sans", sans-serif' textLength="142.21" lengthAdjust="spacingAndGlyphs" transform="rotate(-90 715.1 1544.88)" stroke="#231f20" stroke-width="1.1">3830000</text>
<text x="715.1" y="1785.58" font-size="38.8" font-weight="bold" fill="#231f20" font-family='"Liberation Sans", sans-serif' textLength="142.21" lengthAdjust="spacingAndGlyphs" transform="rotate(-90 715.1 1785.58)" stroke="#231f20" stroke-width="1.1">3820000</text>
<text x="715.1" y="2025.78" font-size="38.8" font-weight="bold" fill="#231f20" font-family='"Liberation Sans", sans-serif' textLength="142.21" lengthAdjust="spacingAndGlyphs" transform="rotate(-90 715.1 2025.78)" stroke="#231f20" stroke-width="1.1">3810000</text>
<text x="715.1" y="2266.38" font-size="38.8" font-weight="bold" fill="#231f20" font-family='"Liberation Sans", sans-serif' textLength="142.21" lengthAdjust="spacingAndGlyphs" transform="rotate(-90 715.1 2266.38)" stroke="#231f20" stroke-width="1.1">3800000</text>
<text x="807.6" y="722.62" font-size="37.4" font-weight="bold" fill="#231f20" font-family='"Liberation Sans", sans-serif' textLength="244.51" lengthAdjust="spacingAndGlyphs" transform="rotate(-90 807.6 722.62)" stroke="#231f20" stroke-width="0.8">UTM Northing</text>
<text x="807" y="1908.12" font-size="37.4" font-weight="bold" fill="#231f20" font-family='"Liberation Sans", sans-serif' textLength="244.1" lengthAdjust="spacingAndGlyphs" transform="rotate(-90 807 1908.12)" stroke="#231f20" stroke-width="0.8">UTM Northing</text>
<rect x="463.3" y="38.9" width="278.3" height="279.5" fill="#a1a1a1"/>
<rect x="465" y="41" width="275" height="276" filter="url(#dem)" opacity="0.9"/>
<g clip-path="url(#insc)">
<ellipse cx="515" cy="290" rx="60" ry="35" fill="#777" opacity="0.25" filter="url(#b12)"/>
<ellipse cx="650" cy="250" rx="70" ry="40" fill="#a3a3a3" opacity="0.6" filter="url(#b20)"/>
<polyline points="482.0,40.0 484.9,43.4 498.7,54.9 507.8,62.9 512.0,71.0 515.9,77.8 523.9,88.2 534.2,95.0 545.7,101.9 552.6,111.1 560.6,122.6 566.3,135.2 573.2,145.5 578.9,157.0 583.0,163.0 586.5,172.0 588.7,181.5 593.0,195.8 597.3,214.5 600.2,231.7 600.9,253.2 600.2,274.7 603.0,284.7 607.4,297.6" fill="none" stroke="#ea4128" stroke-width="6" stroke-linejoin="round" stroke-linecap="round"/>
<polyline points="527.0,84.0 531.0,82.0 538.0,85.0 536.0,90.0" fill="none" stroke="#ea4128" stroke-width="3.5" stroke-linejoin="round" stroke-linecap="round"/>
<polyline points="543.0,97.0 549.0,96.0 550.0,103.0" fill="none" stroke="#ea4128" stroke-width="4" stroke-linejoin="round" stroke-linecap="round"/>
<polyline points="548.0,104.0 556.0,113.0 563.0,126.0" fill="none" stroke="#ea4128" stroke-width="9" stroke-linejoin="round" stroke-linecap="round"/>
<polyline points="562.0,124.0 568.0,136.0 574.0,147.0 580.0,157.0" fill="none" stroke="#ea4128" stroke-width="13" stroke-linejoin="round" stroke-linecap="round"/>
<polyline points="566.0,133.0 571.0,142.0 576.0,150.0" fill="none" stroke="#ea4128" stroke-width="18" stroke-linejoin="round" stroke-linecap="round"/>
<polyline points="556.0,112.0 566.0,112.0" fill="none" stroke="#ea4128" stroke-width="3" stroke-linejoin="round" stroke-linecap="round"/>
<polyline points="576.7,113.4 577.3,122.0 577.8,131.7" fill="none" stroke="#ea4128" stroke-width="2" stroke-linejoin="round" stroke-linecap="round"/>
<polyline points="583.0,158.0 589.0,162.0 593.8,172.9 592.5,180.0 589.5,184.0" fill="none" stroke="#ea4128" stroke-width="3.5" stroke-linejoin="round" stroke-linecap="round"/>
<polyline points="590.0,186.0 595.0,200.0 598.0,215.0" fill="none" stroke="#ea4128" stroke-width="9" stroke-linejoin="round" stroke-linecap="round"/>
<polyline points="597.0,212.0 600.0,222.0 600.5,235.0" fill="none" stroke="#ea4128" stroke-width="11" stroke-linejoin="round" stroke-linecap="round"/>
<polyline points="580.0,208.7 586.0,219.0 593.0,231.7" fill="none" stroke="#ea4128" stroke-width="4" stroke-linejoin="round" stroke-linecap="round"/>
<polyline points="603.0,217.3 611.7,227.4 617.4,238.9" fill="none" stroke="#ea4128" stroke-width="4" stroke-linejoin="round" stroke-linecap="round"/>
<polyline points="627.0,40.0 630.0,50.0 634.4,59.0 642.0,70.0 650.0,81.0 657.0,89.0 662.0,94.4 666.0,107.0 669.0,119.0 671.0,132.0 674.4,145.5 680.0,155.0 685.5,163.0 692.0,172.0 697.7,181.5 705.0,197.0 712.0,213.0" fill="none" stroke="#ea4128" stroke-width="5" stroke-linejoin="round" stroke-linecap="round"/>
<polyline points="664.5,116.0 665.0,128.0 667.5,140.0" fill="none" stroke="#ea4128" stroke-width="3" stroke-linejoin="round" stroke-linecap="round"/>
<polyline points="686.0,158.0 692.0,160.0 699.0,166.0 704.9,174.3 712.0,192.0 719.2,210.2" fill="none" stroke="#ea4128" stroke-width="3.5" stroke-linejoin="round" stroke-linecap="round"/>
<polyline points="712.0,213.0 719.2,210.2" fill="none" stroke="#ea4128" stroke-width="3.5" stroke-linejoin="round" stroke-linecap="round"/>
<polyline points="699.0,183.0 709.0,180.0" fill="none" stroke="#ea4128" stroke-width="3" stroke-linejoin="round" stroke-linecap="round"/>
<polyline points="704.0,196.0 714.0,193.0" fill="none" stroke="#ea4128" stroke-width="3" stroke-linejoin="round" stroke-linecap="round"/>
<polyline points="694.0,172.0 702.0,168.0" fill="none" stroke="#ea4128" stroke-width="3" stroke-linejoin="round" stroke-linecap="round"/>
<polygon points="663.3,80.9 665.4,86.4 671.2,86.6 666.6,90.3 668.2,95.9 663.3,92.7 658.4,95.9 660.0,90.3 655.4,86.6 661.2,86.4" fill="#f9ea22"/>
<polygon points="603.1,277.9 605.2,283.4 611.0,283.6 606.4,287.3 608.0,292.9 603.1,289.7 598.2,292.9 599.8,287.3 595.2,283.6 601.0,283.4" fill="#f9ea22"/>
</g>
<rect x="465.3" y="40.9" width="274.3" height="275.5" fill="none" stroke="#0a0a0a" stroke-width="4"/>
<text x="47.33" y="964.4" font-size="34.3" font-weight="bold" fill="#0a0a0a" font-family='"Liberation Sans", sans-serif' textLength="208.43" lengthAdjust="spacingAndGlyphs" stroke="#0a0a0a" stroke-width="1.7">North-South</text>
<text x="38.5" y="1008.9" font-size="34.3" font-weight="bold" fill="#0a0a0a" font-family='"Liberation Sans", sans-serif' textLength="225.49" lengthAdjust="spacingAndGlyphs" stroke="#0a0a0a" stroke-width="1.7">Displacement</text>
<rect x="79.8" y="1024.1" width="140.5" height="19.7" fill="url(#cbar)" stroke="#0a0a0a" stroke-width="3.6"/>
<text x="64.77" y="1082.3" font-size="36.3" font-weight="bold" fill="#231f20" font-family='"Liberation Sans", sans-serif' textLength="31.34" lengthAdjust="spacingAndGlyphs" stroke="#231f20" stroke-width="1.0">-2</text>
<text x="132.01" y="1078.4" font-size="39" font-weight="bold" fill="#231f20" font-family='"Liberation Sans", sans-serif' textLength="32.66" lengthAdjust="spacingAndGlyphs" stroke="#231f20" stroke-width="1.0">m</text>
<text x="209.38" y="1082.3" font-size="36.3" font-weight="bold" fill="#231f20" font-family='"Liberation Sans", sans-serif' textLength="19.38" lengthAdjust="spacingAndGlyphs" stroke="#231f20" stroke-width="1.0">6</text>
<text x="285.98" y="1022.3" font-size="36.5" font-weight="bold" fill="#231f20" font-family='"Liberation Sans", sans-serif' textLength="21.08" lengthAdjust="spacingAndGlyphs" stroke="#231f20" stroke-width="1.0">0</text>
<text x="341.87" y="1022.3" font-size="36.5" font-weight="bold" fill="#231f20" font-family='"Liberation Sans", sans-serif' textLength="54.3" lengthAdjust="spacingAndGlyphs" stroke="#231f20" stroke-width="1.0">km</text>
<text x="422.36" y="1022.3" font-size="36.5" font-weight="bold" fill="#231f20" font-family='"Liberation Sans", sans-serif' textLength="39.65" lengthAdjust="spacingAndGlyphs" stroke="#231f20" stroke-width="1.0">10</text>
<polyline points="297.7,1035.0 297.7,1047.5 440.7,1047.5 440.7,1035.0" fill="none" stroke="#0d0d0d" stroke-width="3.5" stroke-linecap="round" stroke-linejoin="miter"/>
<line x1="315.6" y1="1047.5" x2="315.6" y2="1038.5" stroke="#0d0d0d" stroke-width="3.5" stroke-linecap="round"/>
<line x1="333.4" y1="1047.5" x2="333.4" y2="1038.5" stroke="#0d0d0d" stroke-width="3.5" stroke-linecap="round"/>
<line x1="351.3" y1="1047.5" x2="351.3" y2="1038.5" stroke="#0d0d0d" stroke-width="3.5" stroke-linecap="round"/>
<line x1="369.2" y1="1047.5" x2="369.2" y2="1035.0" stroke="#0d0d0d" stroke-width="3.5" stroke-linecap="round"/>
<line x1="387.1" y1="1047.5" x2="387.1" y2="1038.5" stroke="#0d0d0d" stroke-width="3.5" stroke-linecap="round"/>
<line x1="404.9" y1="1047.5" x2="404.9" y2="1038.5" stroke="#0d0d0d" stroke-width="3.5" stroke-linecap="round"/>
<line x1="422.8" y1="1047.5" x2="422.8" y2="1038.5" stroke="#0d0d0d" stroke-width="3.5" stroke-linecap="round"/>
<text x="819.59" y="947.8" font-size="34" font-weight="bold" fill="#0a0a0a" font-family='"Liberation Sans", sans-serif' textLength="160.35" lengthAdjust="spacingAndGlyphs" stroke="#0a0a0a" stroke-width="1.7">East-West</text>
<text x="790.18" y="991.7" font-size="34" font-weight="bold" fill="#0a0a0a" font-family='"Liberation Sans", sans-serif' textLength="226.91" lengthAdjust="spacingAndGlyphs" stroke="#0a0a0a" stroke-width="1.7">Displacement</text>
<rect x="830.0" y="1003.8" width="141.9" height="20.1" fill="url(#cbar)" stroke="#0a0a0a" stroke-width="2.6"/>
<text x="809.78" y="1058.4" font-size="35" font-weight="bold" fill="#231f20" font-family='"Liberation Sans", sans-serif' textLength="30.91" lengthAdjust="spacingAndGlyphs" stroke="#231f20" stroke-width="1.0">-3</text>
<text x="879.38" y="1056.6" font-size="39" font-weight="bold" fill="#231f20" font-family='"Liberation Sans", sans-serif' textLength="33.12" lengthAdjust="spacingAndGlyphs" stroke="#231f20" stroke-width="1.0">m</text>
<text x="957.22" y="1058.4" font-size="35" font-weight="bold" fill="#231f20" font-family='"Liberation Sans", sans-serif' textLength="18.8" lengthAdjust="spacingAndGlyphs" stroke="#231f20" stroke-width="1.0">3</text>
<text x="1030.9" y="1035.1" font-size="36.8" font-weight="bold" fill="#231f20" font-family='"Liberation Sans", sans-serif' textLength="19.44" lengthAdjust="spacingAndGlyphs" stroke="#231f20" stroke-width="1.0">0</text>
<text x="1086.7" y="1035" font-size="36.8" font-weight="bold" fill="#231f20" font-family='"Liberation Sans", sans-serif' textLength="53.75" lengthAdjust="spacingAndGlyphs" stroke="#231f20" stroke-width="1.0">km</text>
<text x="1167.49" y="1035.1" font-size="36.8" font-weight="bold" fill="#231f20" font-family='"Liberation Sans", sans-serif' textLength="39.21" lengthAdjust="spacingAndGlyphs" stroke="#231f20" stroke-width="1.0">10</text>
<polyline points="1042.7,1048.0 1042.7,1059.9 1186.0,1059.9 1186.0,1048.0" fill="none" stroke="#0d0d0d" stroke-width="3.5" stroke-linecap="round" stroke-linejoin="miter"/>
<line x1="1060.6" y1="1059.9" x2="1060.6" y2="1051.2" stroke="#0d0d0d" stroke-width="3.5" stroke-linecap="round"/>
<line x1="1078.5" y1="1059.9" x2="1078.5" y2="1051.2" stroke="#0d0d0d" stroke-width="3.5" stroke-linecap="round"/>
<line x1="1096.4" y1="1059.9" x2="1096.4" y2="1051.2" stroke="#0d0d0d" stroke-width="3.5" stroke-linecap="round"/>
<line x1="1114.3" y1="1059.9" x2="1114.3" y2="1048.0" stroke="#0d0d0d" stroke-width="3.5" stroke-linecap="round"/>
<line x1="1132.3" y1="1059.9" x2="1132.3" y2="1051.2" stroke="#0d0d0d" stroke-width="3.5" stroke-linecap="round"/>
<line x1="1150.2" y1="1059.9" x2="1150.2" y2="1051.2" stroke="#0d0d0d" stroke-width="3.5" stroke-linecap="round"/>
<line x1="1168.1" y1="1059.9" x2="1168.1" y2="1051.2" stroke="#0d0d0d" stroke-width="3.5" stroke-linecap="round"/>
<text x="52.83" y="2069.4" font-size="29.5" font-weight="bold" fill="#0a0a0a" font-family='"Liberation Sans", sans-serif' textLength="181.34" lengthAdjust="spacingAndGlyphs" stroke="#0a0a0a" stroke-width="1.5">North-South</text>
<text x="44.38" y="2108.9" font-size="29.5" font-weight="bold" fill="#0a0a0a" font-family='"Liberation Sans", sans-serif' textLength="197.46" lengthAdjust="spacingAndGlyphs" stroke="#0a0a0a" stroke-width="1.5">Displacement</text>
<text x="57.31" y="2147" font-size="34.6" font-weight="bold" fill="#231f20" font-family='"Liberation Sans", sans-serif' textLength="30.26" lengthAdjust="spacingAndGlyphs" stroke="#231f20" stroke-width="1.0">-2</text>
<text x="126.75" y="2147.9" font-size="35.6" font-weight="bold" fill="#231f20" font-family='"Liberation Sans", sans-serif' textLength="32.2" lengthAdjust="spacingAndGlyphs" stroke="#231f20" stroke-width="1.0">m</text>
<text x="201.24" y="2147" font-size="34.6" font-weight="bold" fill="#231f20" font-family='"Liberation Sans", sans-serif' textLength="19.95" lengthAdjust="spacingAndGlyphs" stroke="#231f20" stroke-width="1.0">6</text>
<rect x="73.8" y="2156.8" width="140.2" height="20.8" fill="url(#cbar)" stroke="#0a0a0a" stroke-width="2.8"/>
<text x="69.23" y="2238" font-size="36.8" font-weight="bold" fill="#231f20" font-family='"Liberation Sans", sans-serif' textLength="19.09" lengthAdjust="spacingAndGlyphs" stroke="#231f20" stroke-width="1.0">0</text>
<text x="170.16" y="2238" font-size="36.8" font-weight="bold" fill="#231f20" font-family='"Liberation Sans", sans-serif' textLength="52.43" lengthAdjust="spacingAndGlyphs" stroke="#231f20" stroke-width="1.0">km</text>
<text x="294.45" y="2238" font-size="36.8" font-weight="bold" fill="#231f20" font-family='"Liberation Sans", sans-serif' textLength="39.87" lengthAdjust="spacingAndGlyphs" stroke="#231f20" stroke-width="1.0">10</text>
<polyline points="80.9,2245.1 80.9,2257.0 314.9,2257.0 314.9,2245.1" fill="none" stroke="#0d0d0d" stroke-width="3.5" stroke-linecap="round" stroke-linejoin="miter"/>
<line x1="110.2" y1="2257" x2="110.2" y2="2248.9" stroke="#0d0d0d" stroke-width="3.5" stroke-linecap="round"/>
<line x1="139.4" y1="2257" x2="139.4" y2="2248.9" stroke="#0d0d0d" stroke-width="3.5" stroke-linecap="round"/>
<line x1="168.6" y1="2257" x2="168.6" y2="2248.9" stroke="#0d0d0d" stroke-width="3.5" stroke-linecap="round"/>
<line x1="197.9" y1="2257" x2="197.9" y2="2245.1" stroke="#0d0d0d" stroke-width="3.5" stroke-linecap="round"/>
<line x1="227.1" y1="2257" x2="227.1" y2="2248.9" stroke="#0d0d0d" stroke-width="3.5" stroke-linecap="round"/>
<line x1="256.4" y1="2257" x2="256.4" y2="2248.9" stroke="#0d0d0d" stroke-width="3.5" stroke-linecap="round"/>
<line x1="285.6" y1="2257" x2="285.6" y2="2248.9" stroke="#0d0d0d" stroke-width="3.5" stroke-linecap="round"/>
<rect x="802.3" y="2193.2" width="166.3" height="21.2" fill="#ffffff" />
<text x="823.56" y="2076.2" font-size="28" font-weight="bold" fill="#0a0a0a" font-family='"Liberation Sans", sans-serif' textLength="140.03" lengthAdjust="spacingAndGlyphs" stroke="#0a0a0a" stroke-width="1.5">East-West</text>
<text x="798.28" y="2114.8" font-size="28" font-weight="bold" fill="#0a0a0a" font-family='"Liberation Sans", sans-serif' textLength="196.95" lengthAdjust="spacingAndGlyphs" stroke="#0a0a0a" stroke-width="1.5">Displacement</text>
<text x="803.27" y="2151.3" font-size="33.5" font-weight="bold" fill="#231f20" font-family='"Liberation Sans", sans-serif' textLength="31.34" lengthAdjust="spacingAndGlyphs" stroke="#231f20" stroke-width="1.0">-3</text>
<text x="875.29" y="2147.8" font-size="35" font-weight="bold" fill="#231f20" font-family='"Liberation Serif", serif' textLength="28.82" lengthAdjust="spacingAndGlyphs" stroke="#231f20" stroke-width="0.5">m</text>
<text x="950.7" y="2151.3" font-size="33.5" font-weight="bold" fill="#231f20" font-family='"Liberation Sans", sans-serif' textLength="19.35" lengthAdjust="spacingAndGlyphs" stroke="#231f20" stroke-width="1.0">3</text>
<rect x="818.6" y="2160.7" width="140.8" height="20.8" fill="url(#cbar)" stroke="#0a0a0a" stroke-width="2.8"/>
<text x="803.84" y="2248.8" font-size="36.8" font-weight="bold" fill="#231f20" font-family='"Liberation Sans", sans-serif' textLength="20.26" lengthAdjust="spacingAndGlyphs" stroke="#231f20" stroke-width="1.0">0</text>
<text x="905.2" y="2248.8" font-size="36.8" font-weight="bold" fill="#231f20" font-family='"Liberation Sans", sans-serif' textLength="53.64" lengthAdjust="spacingAndGlyphs" stroke="#231f20" stroke-width="1.0">km</text>
<text x="1029.58" y="2248.8" font-size="36.8" font-weight="bold" fill="#231f20" font-family='"Liberation Sans", sans-serif' textLength="39.32" lengthAdjust="spacingAndGlyphs" stroke="#231f20" stroke-width="1.0">10</text>
<polyline points="813.3,2256.2 813.3,2267.6 1047.3,2267.6 1047.3,2256.2" fill="none" stroke="#0d0d0d" stroke-width="3.5" stroke-linecap="round" stroke-linejoin="miter"/>
<line x1="842.5" y1="2267.6" x2="842.5" y2="2259.8" stroke="#0d0d0d" stroke-width="3.5" stroke-linecap="round"/>
<line x1="871.8" y1="2267.6" x2="871.8" y2="2259.8" stroke="#0d0d0d" stroke-width="3.5" stroke-linecap="round"/>
<line x1="901.0" y1="2267.6" x2="901.0" y2="2259.8" stroke="#0d0d0d" stroke-width="3.5" stroke-linecap="round"/>
<line x1="930.3" y1="2267.6" x2="930.3" y2="2256.2" stroke="#0d0d0d" stroke-width="3.5" stroke-linecap="round"/>
<line x1="959.5" y1="2267.6" x2="959.5" y2="2259.8" stroke="#0d0d0d" stroke-width="3.5" stroke-linecap="round"/>
<line x1="988.8" y1="2267.6" x2="988.8" y2="2259.8" stroke="#0d0d0d" stroke-width="3.5" stroke-linecap="round"/>
<line x1="1018.0" y1="2267.6" x2="1018.0" y2="2259.8" stroke="#0d0d0d" stroke-width="3.5" stroke-linecap="round"/>
<rect x="-11.5" y="-5.5" width="23" height="11" fill="none" stroke="#1a1a1a" stroke-width="3" transform="translate(491,891.8) rotate(-20)"/>
<rect x="-11.5" y="-5.5" width="23" height="11" fill="none" stroke="#1a1a1a" stroke-width="3" transform="translate(357.8,1860.3) rotate(-18)"/>
<polyline points="90.3,528.5 90.3,747.4 373.4,747.4" fill="none" stroke="#6d6e70" stroke-width="3.6"/>
<line x1="83.5" y1="528.5" x2="90.3" y2="528.5" stroke="#6d6e70" stroke-width="3" stroke-linecap="butt"/>
<line x1="83.5" y1="616.5" x2="90.3" y2="616.5" stroke="#6d6e70" stroke-width="3" stroke-linecap="butt"/>
<line x1="83.5" y1="703.8" x2="90.3" y2="703.8" stroke="#6d6e70" stroke-width="3" stroke-linecap="butt"/>
<line x1="85.5" y1="572" x2="90.3" y2="572" stroke="#6d6e70" stroke-width="3" stroke-linecap="butt"/>
<line x1="85.5" y1="660" x2="90.3" y2="660" stroke="#6d6e70" stroke-width="3" stroke-linecap="butt"/>
<line x1="90.3" y1="747.4" x2="90.3" y2="753" stroke="#6d6e70" stroke-width="3" stroke-linecap="butt"/>
<line x1="161.7" y1="747.4" x2="161.7" y2="753" stroke="#6d6e70" stroke-width="3" stroke-linecap="butt"/>
<line x1="231.3" y1="747.4" x2="231.3" y2="753" stroke="#6d6e70" stroke-width="3" stroke-linecap="butt"/>
<line x1="301" y1="747.4" x2="301" y2="753" stroke="#6d6e70" stroke-width="3" stroke-linecap="butt"/>
<line x1="373.4" y1="747.4" x2="373.4" y2="753" stroke="#6d6e70" stroke-width="3" stroke-linecap="butt"/>
<polyline points="91.0,551.8 93.3,553.2 95.6,554.3 97.9,556.0 100.2,555.7 102.5,556.7 104.8,551.3 107.1,551.0 109.4,554.1 111.7,553.9 114.0,555.6 116.3,551.2 118.6,551.0 120.9,549.4 123.2,550.4 125.5,551.3 127.8,548.0 130.1,547.4 132.4,547.5 134.7,551.8 137.0,553.5 139.3,550.3 141.6,552.8 143.9,549.8 146.2,551.2 148.5,548.8 150.8,546.5 153.1,551.0 155.4,549.2 157.7,548.2 160.0,552.8 162.3,554.8 164.6,552.1 166.9,555.0 169.2,553.9 171.5,554.2 173.8,551.2 176.1,554.4 178.4,554.6 180.7,556.6 183.0,557.3 185.3,553.7 187.6,552.0 189.9,549.6 192.2,548.1 194.5,546.6 196.8,547.3 199.1,549.8 201.4,547.2 203.7,550.3 206.0,549.8 208.3,549.3 210.6,552.5 212.9,552.2 215.2,550.8 217.5,551.1 219.8,552.9 222.1,549.5 224.4,553.7 226.7,549.8 229.0,552.4 229.5,556.0 231.0,640.0 234.0,722.0 235.0,724.1 237.3,728.4 239.6,725.3 241.9,727.6 244.2,724.8 246.5,724.4 248.8,729.4 251.1,727.2 253.4,728.9 255.7,728.8 258.0,728.9 260.3,729.3 262.6,727.7 264.9,731.1 267.2,728.3 269.5,727.7 271.8,726.0 274.1,726.8 276.4,728.4 278.7,732.8 281.0,732.1 283.3,729.9 285.6,729.8 287.9,734.8 290.2,731.6 292.5,733.6 294.8,733.3 297.1,735.2 299.4,734.3 301.7,736.2 304.0,736.2 306.3,737.4 308.6,739.9 310.9,739.4 313.2,736.2 315.5,733.9 317.8,738.7 320.1,738.5 322.4,736.6 324.7,740.6 327.0,740.7 329.3,741.9 331.6,743.8 333.9,741.0 336.2,739.9 338.5,743.0 340.8,739.9 343.1,742.4 345.4,739.6 347.7,742.0 350.0,743.7 352.3,746.5 354.6,747.6 356.9,746.1 359.2,743.2 361.5,741.3 363.8,742.8 366.1,743.8 368.4,741.5 370.7,745.9 373.0,746.0" fill="none" stroke="#1d1a1b" stroke-width="4" stroke-linejoin="round" stroke-linecap="round"/>
<line x1="90.3" y1="551.7" x2="231.3" y2="552.6" stroke="#e8492b" stroke-width="4" stroke-linecap="butt"/>
<line x1="233.4" y1="724.9" x2="373.4" y2="742.3" stroke="#e8492b" stroke-width="4" stroke-linecap="butt"/>
<text x="67.46" y="538.5" font-size="31" font-weight="normal" fill="#6d6e70" font-family='"Liberation Sans", sans-serif' textLength="17.62" lengthAdjust="spacingAndGlyphs" stroke="#6d6e70" stroke-width="0.45">5</text>
<text x="67.1" y="626" font-size="31" font-weight="normal" fill="#6d6e70" font-family='"Liberation Sans", sans-serif' textLength="17.5" lengthAdjust="spacingAndGlyphs" stroke="#6d6e70" stroke-width="0.45">4</text>
<text x="67.63" y="712" font-size="31" font-weight="normal" fill="#6d6e70" font-family='"Liberation Sans", sans-serif' textLength="17.44" lengthAdjust="spacingAndGlyphs" stroke="#6d6e70" stroke-width="0.45">3</text>
<text x="49.88" y="779" font-size="28" font-weight="normal" fill="#6d6e70" font-family='"Liberation Sans", sans-serif' textLength="59.99" lengthAdjust="spacingAndGlyphs" stroke="#6d6e70" stroke-width="0.45">-500</text>
<text x="222.6" y="779" font-size="28" font-weight="normal" fill="#6d6e70" font-family='"Liberation Sans", sans-serif' textLength="17.83" lengthAdjust="spacingAndGlyphs" stroke="#6d6e70" stroke-width="0.45">0</text>
<text x="340.54" y="779" font-size="28" font-weight="normal" fill="#6d6e70" font-family='"Liberation Sans", sans-serif' textLength="49.37" lengthAdjust="spacingAndGlyphs" stroke="#6d6e70" stroke-width="0.45">500</text>
<text x="86.56" y="804.7" font-size="27" font-weight="normal" fill="#6d6e70" font-family='"Liberation Sans", sans-serif' textLength="282.75" lengthAdjust="spacingAndGlyphs" stroke="#6d6e70" stroke-width="0.45">Distance from Fault (m)</text>
<text x="55.7" y="751.5" font-size="27" font-weight="normal" fill="#6d6e70" font-family='"Liberation Sans", sans-serif' textLength="197.52" lengthAdjust="spacingAndGlyphs" transform="rotate(-90 55.7 751.5)" stroke="#6d6e70" stroke-width="0.45">Pixel movement</text>
<polyline points="414.4,1398.9 414.4,1556.7 627.8,1556.7" fill="none" stroke="#6d6e70" stroke-width="3"/>
<line x1="410.5" y1="1417.8" x2="414.4" y2="1417.8" stroke="#6d6e70" stroke-width="2.2" stroke-linecap="butt"/>
<line x1="410.5" y1="1458.2" x2="414.4" y2="1458.2" stroke="#6d6e70" stroke-width="2.2" stroke-linecap="butt"/>
<line x1="410.5" y1="1498" x2="414.4" y2="1498" stroke="#6d6e70" stroke-width="2.2" stroke-linecap="butt"/>
<line x1="410.5" y1="1537.2" x2="414.4" y2="1537.2" stroke="#6d6e70" stroke-width="2.2" stroke-linecap="butt"/>
<line x1="411.5" y1="1438.0" x2="414.4" y2="1438.0" stroke="#6d6e70" stroke-width="2.2" stroke-linecap="butt"/>
<line x1="411.5" y1="1478.1" x2="414.4" y2="1478.1" stroke="#6d6e70" stroke-width="2.2" stroke-linecap="butt"/>
<line x1="411.5" y1="1517.6" x2="414.4" y2="1517.6" stroke="#6d6e70" stroke-width="2.2" stroke-linecap="butt"/>
<line x1="411.5" y1="1400" x2="414.4" y2="1400" stroke="#6d6e70" stroke-width="2.2" stroke-linecap="butt"/>
<line x1="411.5" y1="1554" x2="414.4" y2="1554" stroke="#6d6e70" stroke-width="2.2" stroke-linecap="butt"/>
<line x1="414.4" y1="1556.7" x2="414.4" y2="1561" stroke="#6d6e70" stroke-width="2.2" stroke-linecap="butt"/>
<line x1="467.8" y1="1556.7" x2="467.8" y2="1561" stroke="#6d6e70" stroke-width="2.2" stroke-linecap="butt"/>
<line x1="521.1" y1="1556.7" x2="521.1" y2="1561" stroke="#6d6e70" stroke-width="2.2" stroke-linecap="butt"/>
<line x1="574.5" y1="1556.7" x2="574.5" y2="1561" stroke="#6d6e70" stroke-width="2.2" stroke-linecap="butt"/>
<line x1="627.8" y1="1556.7" x2="627.8" y2="1561" stroke="#6d6e70" stroke-width="2.2" stroke-linecap="butt"/>
<polyline points="415.5,1409.7 417.3,1410.2 419.0,1412.7 420.8,1411.5 422.5,1411.0 424.3,1411.2 426.0,1409.0 427.8,1409.6 429.5,1410.7 431.3,1412.3 433.0,1409.1 434.8,1408.5 436.6,1406.8 438.3,1410.2 440.1,1411.5 441.8,1408.4 443.6,1412.2 445.3,1414.4 447.1,1413.8 448.8,1413.3 450.6,1410.2 452.3,1407.6 454.1,1409.0 455.9,1407.1 457.6,1406.8 459.4,1406.9 461.1,1405.7 462.9,1407.6 464.6,1408.7 466.4,1411.7 468.1,1411.6 469.9,1412.3 471.6,1411.8 473.4,1412.6 475.2,1411.8 476.9,1410.3 478.7,1413.7 480.4,1415.8 482.2,1416.1 483.9,1415.5 485.7,1412.8 487.4,1410.7 489.2,1409.8 490.9,1407.9 492.7,1411.0 494.5,1410.7 496.2,1413.2 498.0,1411.9 499.7,1414.6 501.5,1415.6 503.2,1411.1 505.0,1409.7 506.7,1413.1 508.5,1412.4 510.2,1415.2 512.0,1413.3 515.0,1414.0 517.5,1425.0 519.0,1460.0 520.5,1500.0 522.0,1528.0 524.0,1536.0 526.0,1534.1 527.8,1536.2 529.7,1537.2 531.5,1539.5 533.4,1536.8 535.2,1535.1 537.1,1536.9 538.9,1537.5 540.8,1535.7 542.6,1536.9 544.5,1535.9 546.3,1537.5 548.1,1534.5 550.0,1533.3 551.8,1536.7 553.7,1535.4 555.5,1534.0 557.4,1536.4 559.2,1536.8 561.1,1534.1 562.9,1534.9 564.8,1536.0 566.6,1533.7 568.4,1535.2 570.3,1532.9 572.1,1532.8 574.0,1531.2 575.8,1530.9 577.7,1535.4 579.5,1534.6 581.4,1537.6 583.2,1536.1 585.1,1536.2 586.9,1537.8 588.7,1537.6 590.6,1534.0 592.4,1534.7 594.3,1535.4 596.1,1533.1 598.0,1531.1 599.8,1534.6 601.7,1534.5 603.5,1532.5 605.4,1532.9 607.2,1531.6 609.0,1534.4 610.9,1534.2 612.7,1531.7 614.6,1534.4 616.4,1531.7 618.3,1531.2 620.1,1529.3 622.0,1532.5 623.8,1530.6 625.7,1531.9 627.5,1530.1" fill="none" stroke="#1d1a1b" stroke-width="3.6" stroke-linejoin="round" stroke-linecap="round"/>
<line x1="414.4" y1="1410" x2="520.4" y2="1412.7" stroke="#e6217d" stroke-width="3.4" stroke-linecap="butt"/>
<line x1="522.2" y1="1536.2" x2="627.8" y2="1533.3" stroke="#e6217d" stroke-width="3.4" stroke-linecap="butt"/>
<text x="393.73" y="1426.7" font-size="24.8" font-weight="normal" fill="#6d6e70" font-family='"Liberation Sans", sans-serif' textLength="17.32" lengthAdjust="spacingAndGlyphs" stroke="#6d6e70" stroke-width="0.45">3</text>
<text x="393.2" y="1465.8" font-size="24.8" font-weight="normal" fill="#6d6e70" font-family='"Liberation Sans", sans-serif' textLength="18.08" lengthAdjust="spacingAndGlyphs" stroke="#6d6e70" stroke-width="0.45">2</text>
<text x="395.16" y="1505.6" font-size="24.8" font-weight="normal" fill="#6d6e70" font-family='"Liberation Sans", sans-serif' textLength="11.57" lengthAdjust="spacingAndGlyphs" stroke="#6d6e70" stroke-width="0.45">1</text>
<text x="393.75" y="1545.6" font-size="24.8" font-weight="normal" fill="#6d6e70" font-family='"Liberation Sans", sans-serif' textLength="17.14" lengthAdjust="spacingAndGlyphs" stroke="#6d6e70" stroke-width="0.45">0</text>
<text x="393.46" y="1584.4" font-size="24.8" font-weight="normal" fill="#6d6e70" font-family='"Liberation Sans", sans-serif' textLength="51.65" lengthAdjust="spacingAndGlyphs" stroke="#6d6e70" stroke-width="0.45">-500</text>
<text x="513.69" y="1584.4" font-size="24.8" font-weight="normal" fill="#6d6e70" font-family='"Liberation Sans", sans-serif' textLength="14.85" lengthAdjust="spacingAndGlyphs" stroke="#6d6e70" stroke-width="0.45">0</text>
<text x="586.97" y="1584.4" font-size="24.8" font-weight="normal" fill="#6d6e70" font-family='"Liberation Sans", sans-serif' textLength="43.81" lengthAdjust="spacingAndGlyphs" stroke="#6d6e70" stroke-width="0.45">500</text>
<text x="352.48" y="1611.1" font-size="26.4" font-weight="normal" fill="#6d6e70" font-family='"Liberation Sans", sans-serif' textLength="279.91" lengthAdjust="spacingAndGlyphs" stroke="#6d6e70" stroke-width="0.45">Distance from Fault (m)</text>
<text x="385.6" y="1573.05" font-size="26" font-weight="normal" fill="#6d6e70" font-family='"Liberation Sans", sans-serif' textLength="193.06" lengthAdjust="spacingAndGlyphs" transform="rotate(-90 385.6 1573.05)" stroke="#6d6e70" stroke-width="0.45">Pixel movement</text>
</svg></body></html>
